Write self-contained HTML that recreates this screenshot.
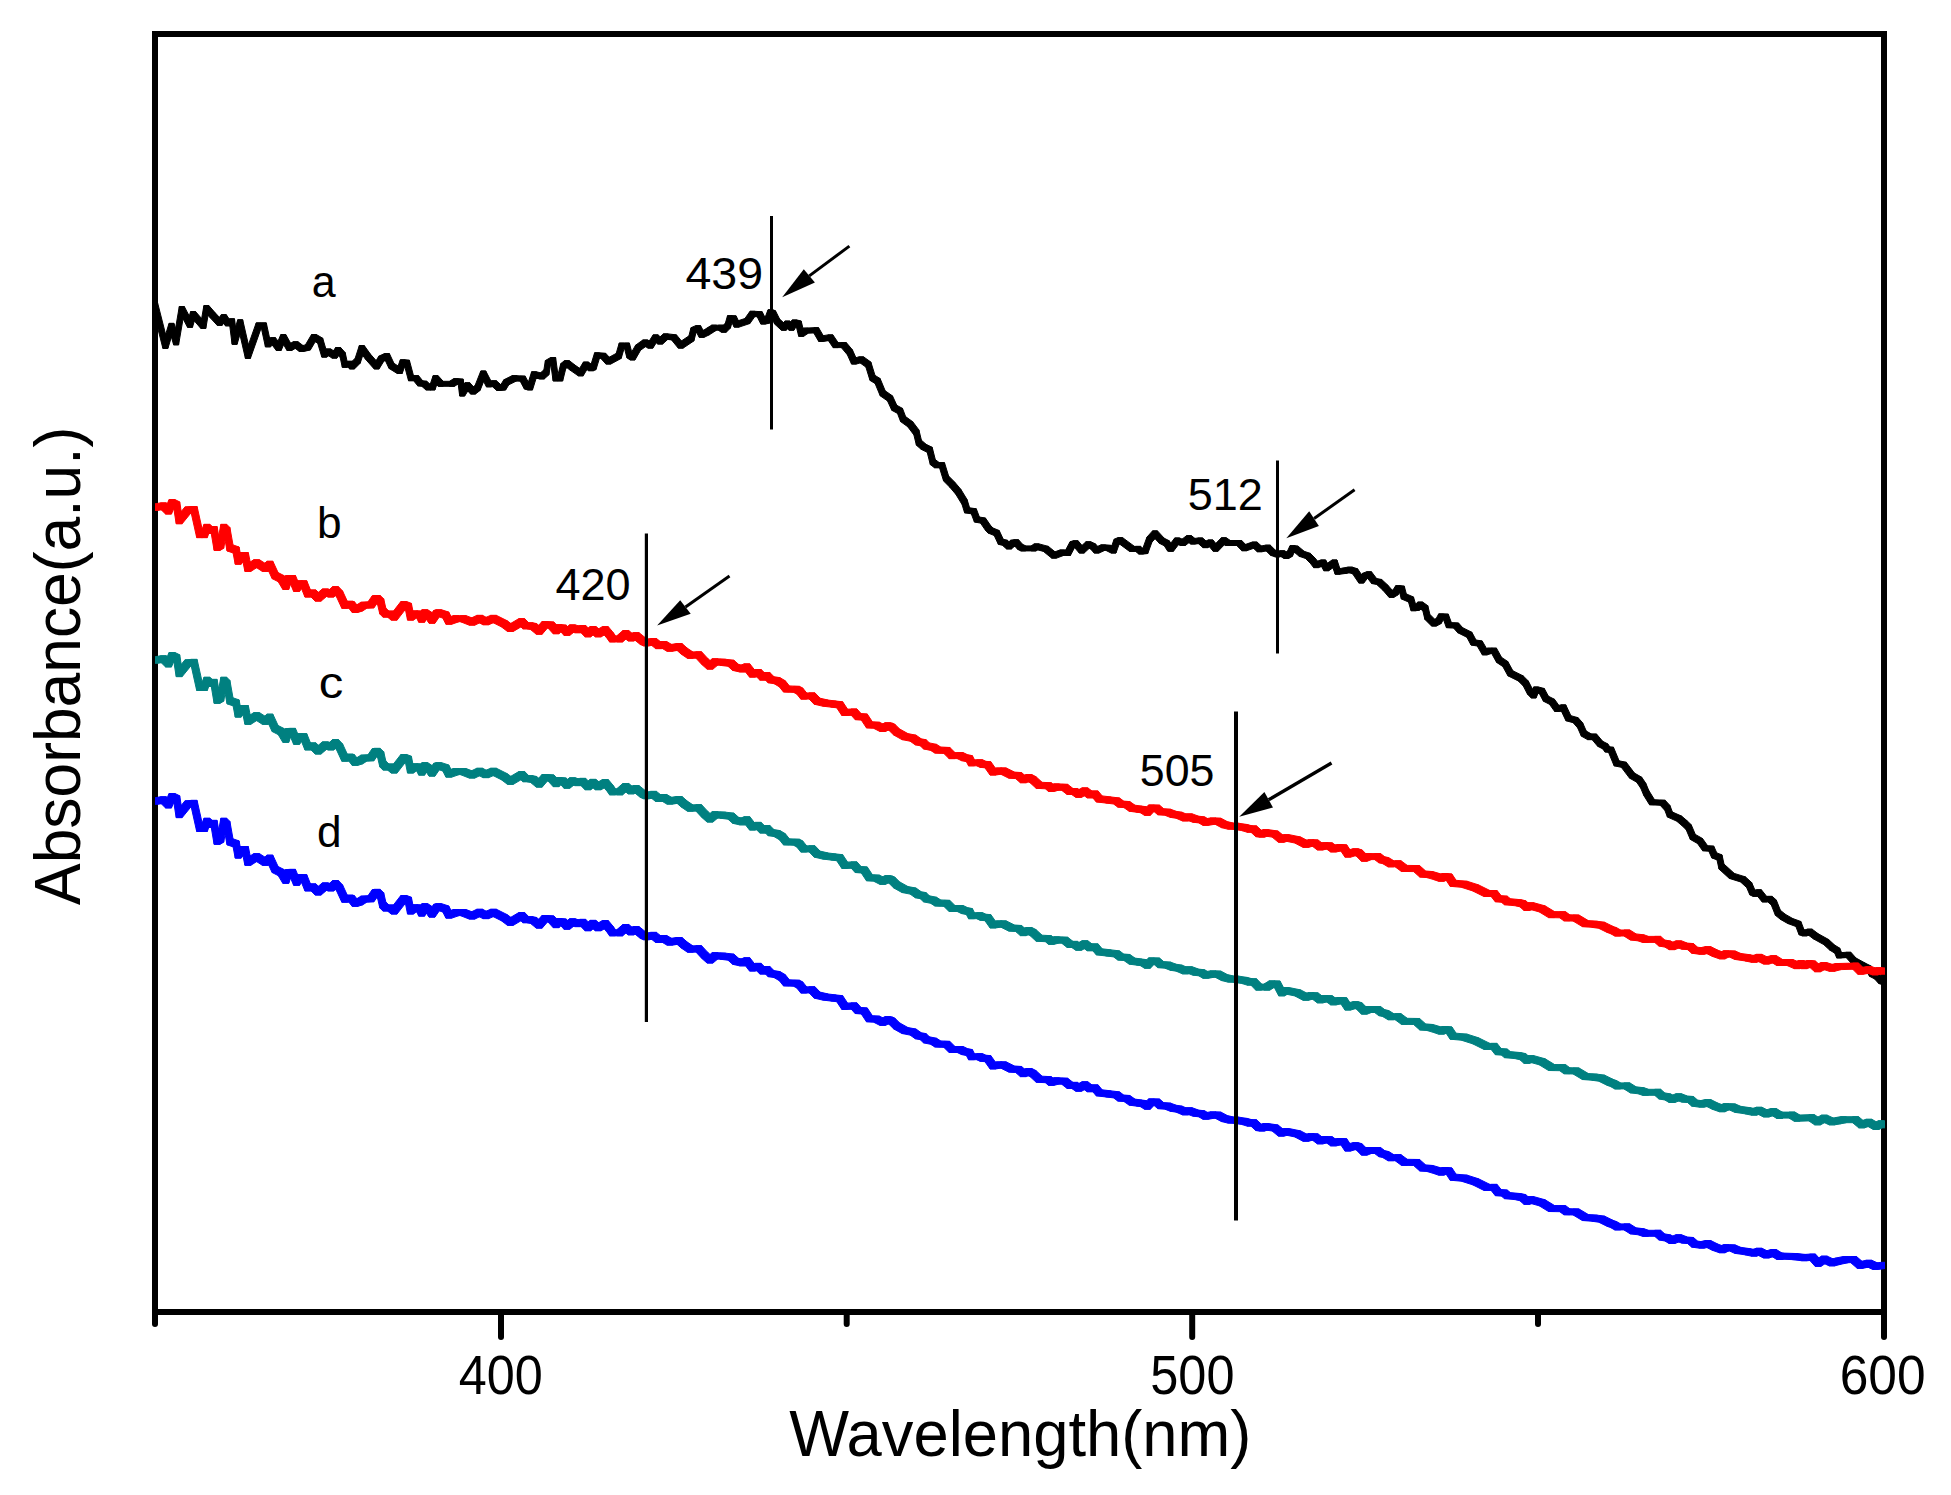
<!DOCTYPE html>
<html><head><meta charset="utf-8"><title>UV-vis absorbance</title>
<style>html,body{margin:0;padding:0;background:#fff}svg{display:block}</style></head><body>
<svg width="1951" height="1495" viewBox="0 0 1951 1495">
<rect width="1951" height="1495" fill="#fff"/>
<rect x="155" y="34" width="1729" height="1278" fill="none" stroke="#000" stroke-width="6"/>
<line x1="155" y1="1312" x2="155" y2="1324" stroke="#000" stroke-width="6" stroke-linecap="round"/>
<line x1="501" y1="1312" x2="501" y2="1337" stroke="#000" stroke-width="6" stroke-linecap="round"/>
<line x1="846.7" y1="1312" x2="846.7" y2="1324" stroke="#000" stroke-width="6" stroke-linecap="round"/>
<line x1="1192.2" y1="1312" x2="1192.2" y2="1337" stroke="#000" stroke-width="6" stroke-linecap="round"/>
<line x1="1538" y1="1312" x2="1538" y2="1324" stroke="#000" stroke-width="6" stroke-linecap="round"/>
<line x1="1884" y1="1312" x2="1884" y2="1337" stroke="#000" stroke-width="6" stroke-linecap="round"/>
<defs><clipPath id="plot"><rect x="155" y="34" width="1730" height="1278"/></clipPath></defs>
<path fill="#000" stroke="#000" stroke-width="1.0" stroke-linejoin="round" fill-rule="nonzero" clip-path="url(#plot)" d="M152.5 302.4L157.5 302.4L167.9 343.4L167.9 348.4L162.9 348.4L152.5 307.4ZM162.9 343.4L169.0 323.4L174.0 323.4L174.0 328.4L167.9 348.4L162.9 348.4ZM169.0 323.4L174.0 323.4L178.6 339.8L178.6 344.8L173.6 344.8L169.0 328.4ZM173.6 339.8L179.3 306.5L184.3 306.5L184.3 311.5L178.6 344.8L173.6 344.8ZM179.3 306.5L184.3 306.5L192.5 322.3L192.5 327.3L187.5 327.3L179.3 311.5ZM187.5 322.3L190.6 311.6L195.6 311.6L195.6 316.6L192.5 327.3L187.5 327.3ZM190.6 311.6L195.6 311.6L205.8 323.4L205.8 328.4L200.8 328.4L190.6 316.6ZM200.8 323.4L203.9 305.6L208.9 305.6L208.9 310.6L205.8 328.4L200.8 328.4ZM203.9 305.6L208.9 305.6L215.0 312.6L215.0 317.6L210.0 317.6L203.9 310.6ZM210.0 312.6L215.0 312.6L222.2 320.3L222.2 325.3L217.2 325.3L210.0 317.6ZM217.2 320.3L221.3 314.7L226.3 314.7L226.3 319.7L222.2 325.3L217.2 325.3ZM221.3 314.7L226.3 314.7L230.4 320.8L230.4 325.8L225.4 325.8L221.3 319.7ZM225.4 320.8L229.5 318.8L234.5 318.8L234.5 323.8L230.4 325.8L225.4 325.8ZM229.5 318.8L234.5 318.8L237.1 339.3L237.1 344.3L232.1 344.3L229.5 323.8ZM232.1 339.3L237.7 319.8L242.7 319.8L242.7 324.8L237.1 344.3L232.1 344.3ZM237.7 319.8L242.7 319.8L250.4 353.4L250.4 358.4L245.4 358.4L237.7 324.8ZM245.4 353.4L256.2 322.9L261.2 322.9L261.2 327.9L250.4 358.4L245.4 358.4ZM256.2 322.9L266.3 322.9L266.3 327.9L256.2 327.9ZM261.3 322.9L266.3 322.9L270.4 341.8L270.4 346.8L265.4 346.8L261.3 327.9ZM265.4 341.8L270.5 337.7L275.5 337.7L275.5 342.7L270.4 346.8L265.4 346.8ZM270.5 337.7L275.5 337.7L281.2 345.4L281.2 350.4L276.2 350.4L270.5 342.7ZM276.2 345.4L280.8 334.6L285.8 334.6L285.8 339.6L281.2 350.4L276.2 350.4ZM280.8 334.6L285.8 334.6L291.9 345.4L291.9 350.4L286.9 350.4L280.8 339.6ZM286.9 345.4L293.1 341.8L298.1 341.8L298.1 346.8L291.9 350.4L286.9 350.4ZM293.1 341.8L298.1 341.8L304.2 346.4L304.2 351.4L299.2 351.4L293.1 346.8ZM299.2 346.4L305.4 344.9L310.4 344.9L310.4 349.9L304.2 351.4L299.2 351.4ZM305.4 344.9L311.5 334.6L316.5 334.6L316.5 339.6L310.4 349.9L305.4 349.9ZM311.5 334.6L316.5 334.6L322.7 338.2L322.7 343.2L317.7 343.2L311.5 339.6ZM317.7 338.2L322.7 338.2L326.8 352.1L326.8 357.1L321.8 357.1L317.7 343.2ZM321.8 352.1L325.9 349.0L330.9 349.0L330.9 354.0L326.8 357.1L321.8 357.1ZM325.9 349.0L330.9 349.0L337.0 353.1L337.0 358.1L332.0 358.1L325.9 354.0ZM332.0 353.1L335.6 347.5L340.6 347.5L340.6 352.5L337.0 358.1L332.0 358.1ZM335.6 347.5L340.6 347.5L345.2 352.6L345.2 357.6L340.2 357.6L335.6 352.5ZM340.2 352.6L345.2 352.6L347.3 362.3L347.3 367.3L342.3 367.3L340.2 357.6ZM342.3 362.3L347.5 361.3L352.5 361.3L352.5 366.3L347.3 367.3L342.3 367.3ZM347.5 361.3L352.5 361.3L354.5 363.9L354.5 368.9L349.5 368.9L347.5 366.3ZM349.5 363.9L355.2 358.2L360.2 358.2L360.2 363.2L354.5 368.9L349.5 368.9ZM355.2 358.2L359.3 345.6L364.3 345.6L364.3 350.6L360.2 363.2L355.2 363.2ZM359.3 345.6L364.3 345.6L370.4 354.1L370.4 359.1L365.4 359.1L359.3 350.6ZM365.4 354.1L370.4 354.1L379.1 363.9L379.1 368.9L374.1 368.9L365.4 359.1ZM374.1 363.9L378.8 356.2L383.8 356.2L383.8 361.2L379.1 368.9L374.1 368.9ZM378.8 356.2L384.4 353.6L389.4 353.6L389.4 358.6L383.8 361.2L378.8 361.2ZM384.4 353.6L389.4 353.6L394.0 363.4L394.0 368.4L389.0 368.4L384.4 358.6ZM389.0 363.4L394.0 363.4L402.2 368.5L402.2 373.5L397.2 373.5L389.0 368.4ZM397.2 368.5L400.3 359.8L405.3 359.8L405.3 364.8L402.2 373.5L397.2 373.5ZM400.3 359.8L405.3 359.8L409.4 360.3L409.4 365.3L404.4 365.3L400.3 364.8ZM404.4 360.3L409.4 360.3L413.5 375.7L413.5 380.7L408.5 380.7L404.4 365.3ZM408.5 375.7L418.6 375.7L418.6 380.7L408.5 380.7ZM413.6 375.7L418.6 375.7L422.7 380.8L422.7 385.8L417.7 385.8L413.6 380.7ZM417.7 380.8L422.7 380.8L426.8 381.3L426.8 386.3L421.8 386.3L417.7 385.8ZM421.8 381.3L426.8 381.3L430.9 384.9L430.9 389.9L425.9 389.9L421.8 386.3ZM425.9 384.9L435.0 384.9L435.0 389.9L425.9 389.9ZM430.0 384.9L433.1 375.7L438.1 375.7L438.1 380.7L435.0 389.9L430.0 389.9ZM433.1 375.7L438.1 375.7L443.2 381.3L443.2 386.3L438.2 386.3L433.1 380.7ZM438.2 381.3L454.5 381.3L454.5 386.3L438.2 386.3ZM449.5 381.3L453.6 378.7L458.6 378.7L458.6 383.7L454.5 386.3L449.5 386.3ZM453.6 378.7L458.6 378.7L463.2 379.2L463.2 384.2L458.2 384.2L453.6 383.7ZM458.2 379.2L463.2 379.2L464.7 391.0L464.7 396.0L459.7 396.0L458.2 384.2ZM459.7 391.0L464.9 382.8L469.9 382.8L469.9 387.8L464.7 396.0L459.7 396.0ZM464.9 382.8L469.9 382.8L475.5 389.0L475.5 394.0L470.5 394.0L464.9 387.8ZM470.5 389.0L475.1 385.4L480.1 385.4L480.1 390.4L475.5 394.0L470.5 394.0ZM475.1 385.4L480.8 371.0L485.8 371.0L485.8 376.0L480.1 390.4L475.1 390.4ZM480.8 371.0L485.8 371.0L491.4 381.8L491.4 386.8L486.4 386.8L480.8 376.0ZM486.4 381.8L491.5 380.8L496.5 380.8L496.5 385.8L491.4 386.8L486.4 386.8ZM491.5 380.8L496.5 380.8L501.6 385.4L501.6 390.4L496.6 390.4L491.5 385.8ZM496.6 385.4L500.7 384.9L505.7 384.9L505.7 389.9L501.6 390.4L496.6 390.4ZM500.7 384.9L503.8 379.8L508.8 379.8L508.8 384.8L505.7 389.9L500.7 389.9ZM503.8 379.8L512.0 375.7L517.0 375.7L517.0 380.7L508.8 384.8L503.8 384.8ZM512.0 375.7L517.0 375.7L525.2 376.2L525.2 381.2L520.2 381.2L512.0 380.7ZM520.2 376.2L525.2 376.2L529.3 383.9L529.3 388.9L524.3 388.9L520.2 381.2ZM524.3 383.9L529.3 383.9L532.5 384.9L532.5 389.9L527.5 389.9L524.3 388.9ZM527.5 384.9L531.6 371.8L536.6 371.8L536.6 376.8L532.5 389.9L527.5 389.9ZM531.6 371.8L536.6 371.8L544.3 373.9L544.3 378.9L539.3 378.9L531.6 376.8ZM539.3 373.9L543.9 369.8L548.9 369.8L548.9 374.8L544.3 378.9L539.3 378.9ZM543.9 369.8L545.4 360.5L550.4 360.5L550.4 365.5L548.9 374.8L543.9 374.8ZM545.4 360.5L550.6 357.5L555.6 357.5L555.6 362.5L550.4 365.5L545.4 365.5ZM550.6 357.5L555.6 357.5L558.1 375.9L558.1 380.9L553.1 380.9L550.6 362.5ZM553.1 375.9L562.7 375.9L562.7 380.9L553.1 380.9ZM557.7 375.9L560.8 363.6L565.8 363.6L565.8 368.6L562.7 380.9L557.7 380.9ZM560.8 363.6L564.4 360.7L569.4 360.7L569.4 365.7L565.8 368.6L560.8 368.6ZM564.4 360.7L569.4 360.7L575.0 365.1L575.0 370.1L570.0 370.1L564.4 365.7ZM570.0 365.1L575.0 365.1L583.2 370.8L583.2 375.8L578.2 375.8L570.0 370.1ZM578.2 370.8L583.4 362.1L588.4 362.1L588.4 367.1L583.2 375.8L578.2 375.8ZM583.4 362.1L588.4 362.1L593.5 365.7L593.5 370.7L588.5 370.7L583.4 367.1ZM588.5 365.7L591.0 364.6L596.0 364.6L596.0 369.6L593.5 370.7L588.5 370.7ZM591.0 364.6L594.6 352.8L599.6 352.8L599.6 357.8L596.0 369.6L591.0 369.6ZM594.6 352.8L599.6 352.8L605.8 353.4L605.8 358.4L600.8 358.4L594.6 357.8ZM600.8 353.4L605.8 353.4L610.9 359.0L610.9 364.0L605.9 364.0L600.8 358.4ZM605.9 359.0L616.2 353.4L621.2 353.4L621.2 358.4L610.9 364.0L605.9 364.0ZM616.2 353.4L619.2 343.1L624.2 343.1L624.2 348.1L621.2 358.4L616.2 358.4ZM619.2 343.1L629.4 343.1L629.4 348.1L619.2 348.1ZM624.4 343.1L629.4 343.1L631.9 352.8L631.9 357.8L626.9 357.8L624.4 348.1ZM626.9 352.8L631.9 352.8L635.0 354.9L635.0 359.9L630.0 359.9L626.9 357.8ZM630.0 354.9L635.6 345.2L640.6 345.2L640.6 350.2L635.0 359.9L630.0 359.9ZM635.6 345.2L642.8 340.0L647.8 340.0L647.8 345.0L640.6 350.2L635.6 350.2ZM642.8 340.0L647.8 340.0L652.9 343.1L652.9 348.1L647.9 348.1L642.8 345.0ZM647.9 343.1L653.1 334.9L658.1 334.9L658.1 339.9L652.9 348.1L647.9 348.1ZM653.1 334.9L658.1 334.9L662.7 339.0L662.7 344.0L657.7 344.0L653.1 339.9ZM657.7 339.0L663.3 333.9L668.3 333.9L668.3 338.9L662.7 344.0L657.7 344.0ZM663.3 333.9L668.3 333.9L676.5 334.9L676.5 339.9L671.5 339.9L663.3 338.9ZM671.5 334.9L676.5 334.9L683.2 343.1L683.2 348.1L678.2 348.1L671.5 339.9ZM678.2 343.1L688.9 335.9L693.9 335.9L693.9 340.9L683.2 348.1L678.2 348.1ZM688.9 335.9L691.0 327.7L696.0 327.7L696.0 332.7L693.9 340.9L688.9 340.9ZM691.0 327.7L695.6 325.7L700.6 325.7L700.6 330.7L696.0 332.7L691.0 332.7ZM695.6 325.7L700.6 325.7L704.2 332.3L704.2 337.3L699.2 337.3L695.6 330.7ZM699.2 332.3L704.3 329.8L709.3 329.8L709.3 334.8L704.2 337.3L699.2 337.3ZM704.3 329.8L707.5 327.7L712.5 327.7L712.5 332.7L709.3 334.8L704.3 334.8ZM707.5 327.7L711.6 325.2L716.6 325.2L716.6 330.2L712.5 332.7L707.5 332.7ZM711.6 325.2L723.3 325.2L723.3 330.2L711.6 330.2ZM718.3 325.2L723.3 325.2L726.3 327.2L726.3 332.2L721.3 332.2L718.3 330.2ZM721.3 327.2L725.4 323.1L730.4 323.1L730.4 328.1L726.3 332.2L721.3 332.2ZM725.4 323.1L727.5 315.7L732.5 315.7L732.5 320.7L730.4 328.1L725.4 328.1ZM727.5 315.7L732.5 315.7L736.1 315.9L736.1 320.9L731.1 320.9L727.5 320.7ZM731.1 315.9L736.1 315.9L739.1 322.1L739.1 327.1L734.1 327.1L731.1 320.9ZM734.1 322.1L744.9 318.5L749.9 318.5L749.9 323.5L739.1 327.1L734.1 327.1ZM744.9 318.5L750.0 311.3L755.0 311.3L755.0 316.3L749.9 323.5L744.9 323.5ZM750.0 311.3L755.0 311.3L762.2 311.8L762.2 316.8L757.2 316.8L750.0 316.3ZM757.2 311.8L762.2 311.8L765.8 319.0L765.8 324.0L760.8 324.0L757.2 316.8ZM760.8 319.0L764.9 318.0L769.9 318.0L769.9 323.0L765.8 324.0L760.8 324.0ZM764.9 318.0L768.0 309.8L773.0 309.8L773.0 314.8L769.9 323.0L764.9 323.0ZM768.0 309.8L773.0 309.8L775.5 310.8L775.5 315.8L770.5 315.8L768.0 314.8ZM770.5 310.8L775.5 310.8L779.6 319.0L779.6 324.0L774.6 324.0L770.5 315.8ZM774.6 319.0L779.6 319.0L786.3 325.2L786.3 330.2L781.3 330.2L774.6 324.0ZM781.3 325.2L784.9 321.1L789.9 321.1L789.9 326.1L786.3 330.2L781.3 330.2ZM784.9 321.1L789.9 321.1L794.0 325.2L794.0 330.2L789.0 330.2L784.9 326.1ZM789.0 325.2L792.1 320.0L797.1 320.0L797.1 325.0L794.0 330.2L789.0 330.2ZM792.1 320.0L797.1 320.0L801.2 321.1L801.2 326.1L796.2 326.1L792.1 325.0ZM796.2 321.1L801.2 321.1L803.7 331.3L803.7 336.3L798.7 336.3L796.2 326.1ZM798.7 331.3L803.3 328.2L808.3 328.2L808.3 333.2L803.7 336.3L798.7 336.3ZM803.3 328.2L813.6 327.7L818.6 327.7L818.6 332.7L808.3 333.2L803.3 333.2ZM813.6 327.7L818.6 327.7L823.7 336.4L823.7 341.4L818.7 341.4L813.6 332.7ZM818.7 336.4L827.9 334.9L832.9 334.9L832.9 339.9L823.7 341.4L818.7 341.4ZM827.9 334.9L832.9 334.9L838.1 342.6L838.1 347.6L833.1 347.6L827.9 339.9ZM833.1 342.6L846.3 342.6L846.3 347.6L833.1 347.6ZM841.3 342.6L846.3 342.6L852.4 349.8L852.4 354.8L847.4 354.8L841.3 347.6ZM847.4 349.8L852.4 349.8L856.5 359.0L856.5 364.0L851.5 364.0L847.4 354.8ZM851.5 359.0L858.7 356.9L863.7 356.9L863.7 361.9L856.5 364.0L851.5 364.0ZM858.7 356.9L863.7 356.9L870.9 362.1L870.9 367.1L865.9 367.1L858.7 361.9ZM865.9 362.1L870.9 362.1L875.0 375.4L875.0 380.4L870.0 380.4L865.9 367.1ZM870.0 375.4L875.0 375.4L880.1 378.5L880.1 383.5L875.1 383.5L870.0 380.4ZM875.1 378.5L880.1 378.5L885.2 390.8L885.2 395.8L880.2 395.8L875.1 383.5ZM880.2 390.8L885.2 390.8L892.5 395.9L892.5 400.9L887.5 400.9L880.2 395.8ZM887.5 395.9L892.5 395.9L896.8 405.3L896.8 410.3L891.8 410.3L887.5 400.9ZM891.8 405.3L896.8 405.3L902.5 408.4L902.5 413.4L897.5 413.4L891.8 410.3ZM897.5 408.4L902.5 408.4L905.6 416.6L905.6 421.6L900.6 421.6L897.5 413.4ZM900.6 416.6L905.6 416.6L912.7 421.7L912.7 426.7L907.7 426.7L900.6 421.6ZM907.7 421.7L912.7 421.7L918.9 429.9L918.9 434.9L913.9 434.9L907.7 426.7ZM913.9 429.9L918.9 429.9L921.4 440.2L921.4 445.2L916.4 445.2L913.9 434.9ZM916.4 440.2L921.4 440.2L926.1 444.3L926.1 449.3L921.1 449.3L916.4 445.2ZM921.1 444.3L926.1 444.3L932.2 447.3L932.2 452.3L927.2 452.3L921.1 449.3ZM927.2 447.3L932.2 447.3L935.3 459.6L935.3 464.6L930.3 464.6L927.2 452.3ZM930.3 459.6L935.3 459.6L939.4 462.7L939.4 467.7L934.4 467.7L930.3 464.6ZM934.4 462.7L944.5 462.7L944.5 467.7L934.4 467.7ZM939.5 462.7L944.5 462.7L948.6 476.0L948.6 481.0L943.6 481.0L939.5 467.7ZM943.6 476.0L948.6 476.0L954.8 482.2L954.8 487.2L949.8 487.2L943.6 481.0ZM949.8 482.2L954.8 482.2L960.9 489.4L960.9 494.4L955.9 494.4L949.8 487.2ZM955.9 489.4L960.9 489.4L967.1 499.6L967.1 504.6L962.1 504.6L955.9 494.4ZM962.1 499.6L967.1 499.6L969.6 507.8L969.6 512.8L964.6 512.8L962.1 504.6ZM964.6 507.8L969.6 507.8L976.3 508.8L976.3 513.8L971.3 513.8L964.6 512.8ZM971.3 508.8L976.3 508.8L979.4 517.0L979.4 522.0L974.4 522.0L971.3 513.8ZM974.4 517.0L979.4 517.0L985.5 518.1L985.5 523.1L980.5 523.1L974.4 522.0ZM980.5 518.1L985.5 518.1L990.6 525.5L990.6 530.5L985.6 530.5L980.5 523.1ZM985.6 525.5L990.6 525.5L993.0 528.0L993.0 533.0L988.0 533.0L985.6 530.5ZM988.0 528.0L993.0 528.0L999.2 530.5L999.2 535.5L994.2 535.5L988.0 533.0ZM994.2 530.5L999.2 530.5L1003.3 539.3L1003.3 544.3L998.3 544.3L994.2 535.5ZM998.3 539.3L1003.3 539.3L1007.4 540.3L1007.4 545.3L1002.4 545.3L998.3 544.3ZM1002.4 540.3L1007.4 540.3L1011.5 543.9L1011.5 548.9L1006.5 548.9L1002.4 545.3ZM1006.5 543.9L1010.6 540.3L1015.6 540.3L1015.6 545.3L1011.5 548.9L1006.5 548.9ZM1010.6 540.3L1013.6 539.8L1018.6 539.8L1018.6 544.8L1015.6 545.3L1010.6 545.3ZM1013.6 539.8L1018.6 539.8L1022.7 544.4L1022.7 549.4L1017.7 549.4L1013.6 544.8ZM1017.7 544.4L1022.7 544.4L1025.8 545.9L1025.8 550.9L1020.8 550.9L1017.7 549.4ZM1020.8 545.9L1036.1 545.9L1036.1 550.9L1020.8 550.9ZM1031.1 545.9L1034.1 543.9L1039.1 543.9L1039.1 548.9L1036.1 550.9L1031.1 550.9ZM1034.1 543.9L1039.1 543.9L1048.4 546.4L1048.4 551.4L1043.4 551.4L1034.1 548.9ZM1043.4 546.4L1048.4 546.4L1056.6 553.1L1056.6 558.1L1051.6 558.1L1043.4 551.4ZM1051.6 553.1L1059.8 550.0L1064.8 550.0L1064.8 555.0L1056.6 558.1L1051.6 558.1ZM1059.8 550.0L1064.8 550.0L1070.4 550.5L1070.4 555.5L1065.4 555.5L1059.8 555.0ZM1065.4 550.5L1070.0 541.8L1075.0 541.8L1075.0 546.8L1070.4 555.5L1065.4 555.5ZM1070.0 541.8L1073.1 540.8L1078.1 540.8L1078.1 545.8L1075.0 546.8L1070.0 546.8ZM1073.1 540.8L1078.1 540.8L1084.2 548.0L1084.2 553.0L1079.2 553.0L1073.1 545.8ZM1079.2 548.0L1085.9 541.8L1090.9 541.8L1090.9 546.8L1084.2 553.0L1079.2 553.0ZM1085.9 541.8L1090.9 541.8L1095.5 543.9L1095.5 548.9L1090.5 548.9L1085.9 546.8ZM1090.5 543.9L1095.5 543.9L1099.1 548.0L1099.1 553.0L1094.1 553.0L1090.5 548.9ZM1094.1 548.0L1100.8 544.9L1105.8 544.9L1105.8 549.9L1099.1 553.0L1094.1 553.0ZM1100.8 544.9L1105.8 544.9L1110.9 545.4L1110.9 550.4L1105.9 550.4L1100.8 549.9ZM1105.9 545.4L1110.9 545.4L1116.0 548.0L1116.0 553.0L1111.0 553.0L1105.9 550.4ZM1111.0 548.0L1114.1 539.3L1119.1 539.3L1119.1 544.3L1116.0 553.0L1111.0 553.0ZM1114.1 539.3L1117.7 537.7L1122.7 537.7L1122.7 542.7L1119.1 544.3L1114.1 544.3ZM1117.7 537.7L1122.7 537.7L1134.5 546.4L1134.5 551.4L1129.5 551.4L1117.7 542.7ZM1129.5 546.4L1140.6 546.4L1140.6 551.4L1129.5 551.4ZM1135.6 546.4L1140.6 546.4L1143.7 549.0L1143.7 554.0L1138.7 554.0L1135.6 551.4ZM1138.7 549.0L1142.8 548.5L1147.8 548.5L1147.8 553.5L1143.7 554.0L1138.7 554.0ZM1142.8 548.5L1146.9 537.2L1151.9 537.2L1151.9 542.2L1147.8 553.5L1142.8 553.5ZM1146.9 537.2L1152.5 530.9L1157.5 530.9L1157.5 535.9L1151.9 542.2L1146.9 542.2ZM1152.5 530.9L1157.5 530.9L1164.2 538.2L1164.2 543.2L1159.2 543.2L1152.5 535.9ZM1159.2 538.2L1164.2 538.2L1169.3 540.8L1169.3 545.8L1164.3 545.8L1159.2 543.2ZM1164.3 540.8L1169.3 540.8L1172.5 545.9L1172.5 550.9L1167.5 550.9L1164.3 545.8ZM1167.5 545.9L1172.5 545.9L1173.5 546.2L1173.5 551.2L1168.5 551.2L1167.5 550.9ZM1168.5 546.2L1174.7 538.0L1179.7 538.0L1179.7 543.0L1173.5 551.2L1168.5 551.2ZM1174.7 538.0L1179.7 538.0L1185.3 540.5L1185.3 545.5L1180.3 545.5L1174.7 543.0ZM1180.3 540.5L1186.5 535.7L1191.5 535.7L1191.5 540.7L1185.3 545.5L1180.3 545.5ZM1186.5 535.7L1191.5 535.7L1195.6 539.0L1195.6 544.0L1190.6 544.0L1186.5 540.7ZM1190.6 539.0L1197.7 538.0L1202.7 538.0L1202.7 543.0L1195.6 544.0L1190.6 544.0ZM1197.7 538.0L1202.7 538.0L1207.9 542.6L1207.9 547.6L1202.9 547.6L1197.7 543.0ZM1202.9 542.6L1208.0 540.0L1213.0 540.0L1213.0 545.0L1207.9 547.6L1202.9 547.6ZM1208.0 540.0L1213.0 540.0L1218.1 546.2L1218.1 551.2L1213.1 551.2L1208.0 545.0ZM1213.1 546.2L1221.3 537.8L1226.3 537.8L1226.3 542.8L1218.1 551.2L1213.1 551.2ZM1221.3 537.8L1226.3 537.8L1230.4 540.5L1230.4 545.5L1225.4 545.5L1221.3 542.8ZM1225.4 540.5L1241.7 540.5L1241.7 545.5L1225.4 545.5ZM1236.7 540.5L1241.7 540.5L1246.8 545.7L1246.8 550.7L1241.8 550.7L1236.7 545.5ZM1241.8 545.7L1252.1 542.1L1257.1 542.1L1257.1 547.1L1246.8 550.7L1241.8 550.7ZM1252.1 542.1L1257.1 542.1L1262.2 546.7L1262.2 551.7L1257.2 551.7L1252.1 547.1ZM1257.2 546.7L1265.4 545.2L1270.4 545.2L1270.4 550.2L1262.2 551.7L1257.2 551.7ZM1265.4 545.2L1270.4 545.2L1275.5 550.3L1275.5 555.3L1270.5 555.3L1265.4 550.2ZM1270.5 550.3L1275.5 550.3L1279.9 551.8L1279.9 556.8L1274.9 556.8L1270.5 555.3ZM1274.9 551.8L1279.7 550.8L1284.7 550.8L1284.7 555.8L1279.9 556.8L1274.9 556.8ZM1279.7 550.8L1284.7 550.8L1288.8 553.4L1288.8 558.4L1283.8 558.4L1279.7 555.8ZM1283.8 553.4L1287.4 551.3L1292.4 551.3L1292.4 556.3L1288.8 558.4L1283.8 558.4ZM1287.4 551.3L1290.0 545.7L1295.0 545.7L1295.0 550.7L1292.4 556.3L1287.4 556.3ZM1290.0 545.7L1295.0 545.7L1298.1 546.2L1298.1 551.2L1293.1 551.2L1290.0 550.7ZM1293.1 546.2L1298.1 546.2L1304.2 551.3L1304.2 556.3L1299.2 556.3L1293.1 551.2ZM1299.2 551.3L1304.2 551.3L1310.4 553.4L1310.4 558.4L1305.4 558.4L1299.2 556.3ZM1305.4 553.4L1310.4 553.4L1315.5 558.5L1315.5 563.5L1310.5 563.5L1305.4 558.4ZM1310.5 558.5L1315.5 558.5L1318.6 562.6L1318.6 567.6L1313.6 567.6L1310.5 563.5ZM1313.6 562.6L1320.7 560.0L1325.7 560.0L1325.7 565.0L1318.6 567.6L1313.6 567.6ZM1320.7 560.0L1325.7 560.0L1328.8 565.7L1328.8 570.7L1323.8 570.7L1320.7 565.0ZM1323.8 565.7L1332.0 560.0L1337.0 560.0L1337.0 565.0L1328.8 570.7L1323.8 570.7ZM1332.0 560.0L1337.0 560.0L1340.1 569.2L1340.1 574.2L1335.1 574.2L1332.0 565.0ZM1335.1 569.2L1342.3 568.2L1347.3 568.2L1347.3 573.2L1340.1 574.2L1335.1 574.2ZM1342.3 568.2L1347.5 567.2L1352.5 567.2L1352.5 572.2L1347.3 573.2L1342.3 573.2ZM1347.5 567.2L1352.5 567.2L1357.6 568.8L1357.6 573.8L1352.6 573.8L1347.5 572.2ZM1352.6 568.8L1357.6 568.8L1363.8 578.0L1363.8 583.0L1358.8 583.0L1352.6 573.8ZM1358.8 578.0L1362.4 573.4L1367.4 573.4L1367.4 578.4L1363.8 583.0L1358.8 583.0ZM1362.4 573.4L1366.5 571.8L1371.5 571.8L1371.5 576.8L1367.4 578.4L1362.4 578.4ZM1366.5 571.8L1371.5 571.8L1376.6 578.5L1376.6 583.5L1371.6 583.5L1366.5 576.8ZM1371.6 578.5L1376.6 578.5L1381.7 579.5L1381.7 584.5L1376.7 584.5L1371.6 583.5ZM1376.7 579.5L1381.7 579.5L1387.9 585.2L1387.9 590.2L1382.9 590.2L1376.7 584.5ZM1382.9 585.2L1387.9 585.2L1394.0 592.3L1394.0 597.3L1389.0 597.3L1382.9 590.2ZM1389.0 592.3L1393.1 589.8L1398.1 589.8L1398.1 594.8L1394.0 597.3L1389.0 597.3ZM1393.1 589.8L1395.7 585.7L1400.7 585.7L1400.7 590.7L1398.1 594.8L1393.1 594.8ZM1395.7 585.7L1400.7 585.7L1404.3 586.2L1404.3 591.2L1399.3 591.2L1395.7 590.7ZM1399.3 586.2L1404.3 586.2L1406.3 593.9L1406.3 598.9L1401.3 598.9L1399.3 591.2ZM1401.3 593.9L1406.3 593.9L1413.5 597.0L1413.5 602.0L1408.5 602.0L1401.3 598.9ZM1408.5 597.0L1413.5 597.0L1416.0 605.7L1416.0 610.7L1411.0 610.7L1408.5 602.0ZM1411.0 605.7L1414.6 605.2L1419.6 605.2L1419.6 610.2L1416.0 610.7L1411.0 610.7ZM1414.6 605.2L1417.7 602.1L1422.7 602.1L1422.7 607.1L1419.6 610.2L1414.6 610.2ZM1417.7 602.1L1422.7 602.1L1427.8 605.7L1427.8 610.7L1422.8 610.7L1417.7 607.1ZM1422.8 605.7L1427.8 605.7L1429.9 614.4L1429.9 619.4L1424.9 619.4L1422.8 610.7ZM1424.9 614.4L1429.9 614.4L1436.5 621.0L1436.5 626.0L1431.5 626.0L1424.9 619.4ZM1431.5 621.0L1436.2 618.5L1441.2 618.5L1441.2 623.5L1436.5 626.0L1431.5 626.0ZM1436.2 618.5L1438.7 613.9L1443.7 613.9L1443.7 618.9L1441.2 623.5L1436.2 623.5ZM1438.7 613.9L1443.7 613.9L1448.3 614.2L1448.3 619.2L1443.3 619.2L1438.7 618.9ZM1443.3 614.2L1448.3 614.2L1451.4 622.6L1451.4 627.6L1446.4 627.6L1443.3 619.2ZM1446.4 622.6L1451.4 622.6L1458.6 623.1L1458.6 628.1L1453.6 628.1L1446.4 627.6ZM1453.6 623.1L1458.6 623.1L1462.7 627.7L1462.7 632.7L1457.7 632.7L1453.6 628.1ZM1457.7 627.7L1462.7 627.7L1471.9 632.3L1471.9 637.3L1466.9 637.3L1457.7 632.7ZM1466.9 632.3L1471.9 632.3L1476.0 640.0L1476.0 645.0L1471.0 645.0L1466.9 637.3ZM1471.0 640.0L1476.0 640.0L1482.2 641.0L1482.2 646.0L1477.2 646.0L1471.0 645.0ZM1477.2 641.0L1482.2 641.0L1487.3 649.8L1487.3 654.8L1482.3 654.8L1477.2 646.0ZM1482.3 649.8L1487.4 648.2L1492.4 648.2L1492.4 653.2L1487.3 654.8L1482.3 654.8ZM1487.4 648.2L1496.5 648.2L1496.5 653.2L1487.4 653.2ZM1491.5 648.2L1496.5 648.2L1501.6 657.4L1501.6 662.4L1496.6 662.4L1491.5 653.2ZM1496.6 657.4L1501.6 657.4L1507.8 661.5L1507.8 666.5L1502.8 666.5L1496.6 662.4ZM1502.8 661.5L1507.8 661.5L1512.9 670.8L1512.9 675.8L1507.9 675.8L1502.8 666.5ZM1507.9 670.8L1512.9 670.8L1523.2 675.9L1523.2 680.9L1518.2 680.9L1507.9 675.8ZM1518.2 675.9L1523.2 675.9L1528.3 681.0L1528.3 686.0L1523.3 686.0L1518.2 680.9ZM1523.3 681.0L1528.3 681.0L1532.5 689.2L1532.5 694.2L1527.5 694.2L1523.3 686.0ZM1527.5 689.2L1532.5 689.2L1536.1 692.9L1536.1 697.9L1531.1 697.9L1527.5 694.2ZM1531.1 692.9L1533.6 687.0L1538.6 687.0L1538.6 692.0L1536.1 697.9L1531.1 697.9ZM1533.6 687.0L1538.6 687.0L1544.3 688.5L1544.3 693.5L1539.3 693.5L1533.6 692.0ZM1539.3 688.5L1544.3 688.5L1548.4 696.2L1548.4 701.2L1543.4 701.2L1539.3 693.5ZM1543.4 696.2L1548.4 696.2L1554.5 699.3L1554.5 704.3L1549.5 704.3L1543.4 701.2ZM1549.5 699.3L1554.5 699.3L1559.7 706.5L1559.7 711.5L1554.7 711.5L1549.5 704.3ZM1554.7 706.5L1560.8 704.9L1565.8 704.9L1565.8 709.9L1559.7 711.5L1554.7 711.5ZM1560.8 704.9L1565.8 704.9L1570.9 715.7L1570.9 720.7L1565.9 720.7L1560.8 709.9ZM1565.9 715.7L1570.9 715.7L1578.1 717.7L1578.1 722.7L1573.1 722.7L1565.9 720.7ZM1573.1 717.7L1578.1 717.7L1582.7 722.9L1582.7 727.9L1577.7 727.9L1573.1 722.7ZM1577.7 722.9L1582.7 722.9L1586.3 731.1L1586.3 736.1L1581.3 736.1L1577.7 727.9ZM1581.3 731.1L1586.3 731.1L1592.5 734.6L1592.5 739.6L1587.5 739.6L1581.3 736.1ZM1587.5 734.6L1591.6 734.1L1596.6 734.1L1596.6 739.1L1592.5 739.6L1587.5 739.6ZM1591.6 734.1L1596.6 734.1L1602.7 741.3L1602.7 746.3L1597.7 746.3L1591.6 739.1ZM1597.7 741.3L1602.7 741.3L1607.8 743.9L1607.8 748.9L1602.8 748.9L1597.7 746.3ZM1602.8 743.9L1607.8 743.9L1609.9 746.9L1609.9 751.9L1604.9 751.9L1602.8 748.9ZM1604.9 746.9L1609.9 746.9L1613.5 747.3L1613.5 752.3L1608.5 752.3L1604.9 751.9ZM1608.5 747.3L1613.5 747.3L1619.1 760.8L1619.1 765.8L1614.1 765.8L1608.5 752.3ZM1614.1 760.8L1619.1 760.8L1626.3 762.3L1626.3 767.3L1621.3 767.3L1614.1 765.8ZM1621.3 762.3L1626.3 762.3L1634.5 773.1L1634.5 778.1L1629.5 778.1L1621.3 767.3ZM1629.5 773.1L1634.5 773.1L1641.7 777.2L1641.7 782.2L1636.7 782.2L1629.5 778.1ZM1636.7 777.2L1641.7 777.2L1645.8 783.3L1645.8 788.3L1640.8 788.3L1636.7 782.2ZM1640.8 783.3L1645.8 783.3L1648.8 790.5L1648.8 795.5L1643.8 795.5L1640.8 788.3ZM1643.8 790.5L1648.8 790.5L1654.5 799.7L1654.5 804.7L1649.5 804.7L1643.8 795.5ZM1649.5 799.7L1654.5 799.7L1665.2 800.3L1665.2 805.3L1660.2 805.3L1649.5 804.7ZM1660.2 800.3L1665.2 800.3L1669.9 805.4L1669.9 810.4L1664.9 810.4L1660.2 805.3ZM1664.9 805.4L1669.9 805.4L1672.4 812.0L1672.4 817.0L1667.4 817.0L1664.9 810.4ZM1667.4 812.0L1672.4 812.0L1681.6 816.1L1681.6 821.1L1676.6 821.1L1667.4 817.0ZM1676.6 816.1L1681.6 816.1L1686.8 820.5L1686.8 825.5L1681.8 825.5L1676.6 821.1ZM1681.8 820.5L1686.8 820.5L1691.2 824.7L1691.2 829.7L1686.2 829.7L1681.8 825.5ZM1686.2 824.7L1691.2 824.7L1695.3 834.4L1695.3 839.4L1690.3 839.4L1686.2 829.7ZM1690.3 834.4L1695.3 834.4L1702.5 838.5L1702.5 843.5L1697.5 843.5L1690.3 839.4ZM1697.5 838.5L1702.5 838.5L1707.6 845.7L1707.6 850.7L1702.6 850.7L1697.5 843.5ZM1702.6 845.7L1707.6 845.7L1713.8 846.2L1713.8 851.2L1708.8 851.2L1702.6 850.7ZM1708.8 846.2L1713.8 846.2L1716.8 852.9L1716.8 857.9L1711.8 857.9L1708.8 851.2ZM1711.8 852.9L1716.8 852.9L1722.0 854.9L1722.0 859.9L1717.0 859.9L1711.8 857.9ZM1717.0 854.9L1722.0 854.9L1724.0 864.1L1724.0 869.1L1719.0 869.1L1717.0 859.9ZM1719.0 864.1L1724.0 864.1L1734.3 873.4L1734.3 878.4L1729.3 878.4L1719.0 869.1ZM1729.3 873.4L1734.3 873.4L1745.5 876.9L1745.5 881.9L1740.5 881.9L1729.3 878.4ZM1740.5 876.9L1745.5 876.9L1751.7 882.6L1751.7 887.6L1746.7 887.6L1740.5 881.9ZM1746.7 882.6L1751.7 882.6L1754.8 889.8L1754.8 894.8L1749.8 894.8L1746.7 887.6ZM1749.8 889.8L1754.8 889.8L1757.8 891.3L1757.8 896.3L1752.8 896.3L1749.8 894.8ZM1752.8 891.3L1756.4 889.8L1761.4 889.8L1761.4 894.8L1757.8 896.3L1752.8 896.3ZM1756.4 889.8L1761.4 889.8L1767.1 896.9L1767.1 901.9L1762.1 901.9L1756.4 894.8ZM1762.1 896.9L1767.2 896.4L1772.2 896.4L1772.2 901.4L1767.1 901.9L1762.1 901.9ZM1767.2 896.4L1772.2 896.4L1776.3 900.0L1776.3 905.0L1771.3 905.0L1767.2 901.4ZM1771.3 900.0L1776.3 900.0L1780.4 910.3L1780.4 915.3L1775.4 915.3L1771.3 905.0ZM1775.4 910.3L1780.4 910.3L1785.5 914.4L1785.5 919.4L1780.5 919.4L1775.4 915.3ZM1780.5 914.4L1785.5 914.4L1792.7 918.5L1792.7 923.5L1787.7 923.5L1780.5 919.4ZM1787.7 918.5L1792.7 918.5L1800.9 921.5L1800.9 926.5L1795.9 926.5L1787.7 923.5ZM1795.9 921.5L1800.9 921.5L1804.0 929.7L1804.0 934.7L1799.0 934.7L1795.9 926.5ZM1799.0 929.7L1804.0 929.7L1807.0 930.8L1807.0 935.8L1802.0 935.8L1799.0 934.7ZM1802.0 930.8L1807.2 929.2L1812.2 929.2L1812.2 934.2L1807.0 935.8L1802.0 935.8ZM1807.2 929.2L1812.2 929.2L1818.3 933.8L1818.3 938.8L1813.3 938.8L1807.2 934.2ZM1813.3 933.8L1818.3 933.8L1828.6 939.5L1828.6 944.5L1823.6 944.5L1813.3 938.8ZM1823.6 939.5L1828.6 939.5L1834.7 945.1L1834.7 950.1L1829.7 950.1L1823.6 944.5ZM1829.7 945.1L1834.7 945.1L1839.8 948.2L1839.8 953.2L1834.8 953.2L1829.7 950.1ZM1834.8 948.2L1839.8 948.2L1841.7 952.9L1841.7 957.9L1836.7 957.9L1834.8 953.2ZM1836.7 952.9L1845.9 952.3L1850.9 952.3L1850.9 957.3L1841.7 957.9L1836.7 957.9ZM1845.9 952.3L1850.9 952.3L1856.0 958.0L1856.0 963.0L1851.0 963.0L1845.9 957.3ZM1851.0 958.0L1856.0 958.0L1865.2 963.1L1865.2 968.1L1860.2 968.1L1851.0 963.0ZM1860.2 963.1L1865.2 963.1L1871.4 966.2L1871.4 971.2L1866.4 971.2L1860.2 968.1ZM1866.4 966.2L1871.4 966.2L1874.5 971.3L1874.5 976.3L1869.5 976.3L1866.4 971.2ZM1869.5 971.3L1874.5 971.3L1879.6 973.9L1879.6 978.9L1874.6 978.9L1869.5 976.3ZM1874.6 973.9L1879.6 973.9L1883.7 978.5L1883.7 983.5L1878.7 983.5L1874.6 978.9ZM1878.7 978.5L1883.7 978.5L1886.8 979.5L1886.8 984.5L1881.8 984.5L1878.7 983.5Z"/>
<path fill="#f00" stroke="#f00" stroke-width="1.0" stroke-linejoin="round" fill-rule="nonzero" clip-path="url(#plot)" d="M152.0 504.4L160.3 502.9L166.3 502.9L166.3 508.9L158.0 510.4L152.0 510.4ZM160.3 502.9L166.3 502.9L171.5 508.0L171.5 514.0L165.5 514.0L160.3 508.9ZM165.5 508.0L169.0 499.6L175.0 499.6L175.0 505.6L171.5 514.0L165.5 514.0ZM169.0 499.6L175.0 499.6L179.7 501.9L179.7 507.9L173.7 507.9L169.0 505.6ZM173.7 501.9L179.7 501.9L182.2 517.7L182.2 523.7L176.2 523.7L173.7 507.9ZM176.2 517.7L184.9 507.0L190.9 507.0L190.9 513.0L182.2 523.7L176.2 523.7ZM184.9 507.0L191.1 506.5L197.1 506.5L197.1 512.5L190.9 513.0L184.9 513.0ZM191.1 506.5L197.1 506.5L202.7 531.6L202.7 537.6L196.7 537.6L191.1 512.5ZM196.7 531.6L207.3 531.6L207.3 537.6L196.7 537.6ZM201.3 531.6L203.9 524.4L209.9 524.4L209.9 530.4L207.3 537.6L201.3 537.6ZM203.9 524.4L209.9 524.4L213.5 527.5L213.5 533.5L207.5 533.5L203.9 530.4ZM207.5 527.5L211.1 526.5L217.1 526.5L217.1 532.5L213.5 533.5L207.5 533.5ZM211.1 526.5L217.1 526.5L220.1 544.4L220.1 550.4L214.1 550.4L211.1 532.5ZM214.1 544.4L217.7 542.3L223.7 542.3L223.7 548.3L220.1 550.4L214.1 550.4ZM217.7 542.3L220.8 524.4L226.8 524.4L226.8 530.4L223.7 548.3L217.7 548.3ZM220.8 524.4L226.8 524.4L229.9 527.5L229.9 533.5L223.9 533.5L220.8 530.4ZM223.9 527.5L229.9 527.5L233.0 544.9L233.0 550.9L227.0 550.9L223.9 533.5ZM227.0 544.9L233.0 544.9L239.1 547.0L239.1 553.0L233.1 553.0L227.0 550.9ZM233.1 547.0L239.1 547.0L241.2 558.2L241.2 564.2L235.2 564.2L233.1 553.0ZM235.2 558.2L239.3 552.6L245.3 552.6L245.3 558.6L241.2 564.2L235.2 564.2ZM239.3 552.6L248.3 552.6L248.3 558.6L239.3 558.6ZM242.3 552.6L248.3 552.6L250.9 565.4L250.9 571.4L244.9 571.4L242.3 558.6ZM244.9 565.4L253.6 559.8L259.6 559.8L259.6 565.8L250.9 571.4L244.9 571.4ZM253.6 559.8L259.6 559.8L268.3 565.4L268.3 571.4L262.3 571.4L253.6 565.8ZM262.3 565.4L266.9 561.3L272.9 561.3L272.9 567.3L268.3 571.4L262.3 571.4ZM266.9 561.3L272.9 561.3L278.1 572.6L278.1 578.6L272.1 578.6L266.9 567.3ZM272.1 572.6L278.1 572.6L284.2 575.7L284.2 581.7L278.2 581.7L272.1 578.6ZM278.2 575.7L284.2 575.7L288.8 583.4L288.8 589.4L282.8 589.4L278.2 581.7ZM282.8 583.4L285.4 575.7L291.4 575.7L291.4 581.7L288.8 589.4L282.8 589.4ZM285.4 575.7L289.5 575.5L295.5 575.5L295.5 581.5L291.4 581.7L285.4 581.7ZM289.5 575.5L295.5 575.5L299.6 585.4L299.6 591.4L293.6 591.4L289.5 581.5ZM293.6 585.4L296.7 580.8L302.7 580.8L302.7 586.8L299.6 591.4L293.6 591.4ZM296.7 580.8L306.8 580.8L306.8 586.8L296.7 586.8ZM300.8 580.8L306.8 580.8L310.9 591.0L310.9 597.0L304.9 597.0L300.8 586.8ZM304.9 591.0L310.0 590.0L316.0 590.0L316.0 596.0L310.9 597.0L304.9 597.0ZM310.0 590.0L316.0 590.0L321.1 595.1L321.1 601.1L315.1 601.1L310.0 596.0ZM315.1 595.1L322.3 589.0L328.3 589.0L328.3 595.0L321.1 601.1L315.1 601.1ZM322.3 589.0L328.3 589.0L333.9 591.0L333.9 597.0L327.9 597.0L322.3 595.0ZM327.9 591.0L332.5 586.7L338.5 586.7L338.5 592.7L333.9 597.0L327.9 597.0ZM332.5 586.7L338.5 586.7L342.6 591.0L342.6 597.0L336.6 597.0L332.5 592.7ZM336.6 591.0L342.6 591.0L347.8 602.3L347.8 608.3L341.8 608.3L336.6 597.0ZM341.8 602.3L347.0 601.3L353.0 601.3L353.0 607.3L347.8 608.3L341.8 608.3ZM347.0 601.3L353.0 601.3L354.5 601.8L354.5 607.8L348.5 607.8L347.0 607.3ZM348.5 601.8L354.5 601.8L358.1 606.4L358.1 612.4L352.1 612.4L348.5 607.8ZM352.1 606.4L356.7 604.9L362.7 604.9L362.7 610.9L358.1 612.4L352.1 612.4ZM356.7 604.9L360.8 602.3L366.8 602.3L366.8 608.3L362.7 610.9L356.7 610.9ZM360.8 602.3L368.0 601.8L374.0 601.8L374.0 607.8L366.8 608.3L360.8 608.3ZM368.0 601.8L372.1 595.9L378.1 595.9L378.1 601.9L374.0 607.8L368.0 607.8ZM372.1 595.9L374.2 595.5L380.2 595.5L380.2 601.5L378.1 601.9L372.1 601.9ZM374.2 595.5L380.2 595.5L383.7 598.8L383.7 604.8L377.7 604.8L374.2 601.5ZM377.7 598.8L383.7 598.8L385.8 608.0L385.8 614.0L379.8 614.0L377.7 604.8ZM379.8 608.0L385.8 608.0L388.9 611.1L388.9 617.1L382.9 617.1L379.8 614.0ZM382.9 611.1L393.5 611.1L393.5 617.1L382.9 617.1ZM387.5 611.1L393.5 611.1L397.1 614.1L397.1 620.1L391.1 620.1L387.5 617.1ZM391.1 614.1L400.8 601.6L406.8 601.6L406.8 607.6L397.1 620.1L391.1 620.1ZM400.8 601.6L406.8 601.6L411.4 603.4L411.4 609.4L405.4 609.4L400.8 607.6ZM405.4 603.4L411.4 603.4L413.5 614.1L413.5 620.1L407.5 620.1L405.4 609.4ZM407.5 614.1L412.1 610.9L418.1 610.9L418.1 616.9L413.5 620.1L407.5 620.1ZM412.1 610.9L418.1 610.9L422.2 611.1L422.2 617.1L416.2 617.1L412.1 616.9ZM416.2 611.1L422.2 611.1L424.7 616.2L424.7 622.2L418.7 622.2L416.2 617.1ZM418.7 616.2L421.8 609.8L427.8 609.8L427.8 615.8L424.7 622.2L418.7 622.2ZM421.8 609.8L427.8 609.8L431.4 612.1L431.4 618.1L425.4 618.1L421.8 615.8ZM425.4 612.1L431.4 612.1L435.0 617.2L435.0 623.2L429.0 623.2L425.4 618.1ZM429.0 617.2L433.6 610.5L439.6 610.5L439.6 616.5L435.0 623.2L429.0 623.2ZM433.6 610.5L435.7 609.8L441.7 609.8L441.7 615.8L439.6 616.5L433.6 616.5ZM435.7 609.8L441.7 609.8L448.8 612.1L448.8 618.1L442.8 618.1L435.7 615.8ZM442.8 612.1L448.8 612.1L451.9 618.2L451.9 624.2L445.9 624.2L442.8 618.1ZM445.9 618.2L453.1 615.7L459.1 615.7L459.1 621.7L451.9 624.2L445.9 624.2ZM453.1 615.7L466.3 615.7L466.3 621.7L453.1 621.7ZM460.3 615.7L466.3 615.7L475.0 619.1L475.0 625.1L469.0 625.1L460.3 621.7ZM469.0 619.1L476.7 615.4L482.7 615.4L482.7 621.4L475.0 625.1L469.0 625.1ZM476.7 615.4L482.7 615.4L488.8 618.7L488.8 624.7L482.8 624.7L476.7 621.4ZM482.8 618.7L490.5 615.4L496.5 615.4L496.5 621.4L488.8 624.7L482.8 624.7ZM490.5 615.4L496.5 615.4L507.3 620.8L507.3 626.8L501.3 626.8L490.5 621.4ZM501.3 620.8L507.3 620.8L513.4 625.4L513.4 631.4L507.4 631.4L501.3 626.8ZM507.4 625.4L518.7 618.7L524.7 618.7L524.7 624.7L513.4 631.4L507.4 631.4ZM518.7 618.7L524.7 618.7L528.8 622.8L528.8 628.8L522.8 628.8L518.7 624.7ZM522.8 622.8L533.0 622.8L533.0 628.8L522.8 628.8ZM527.0 622.8L533.0 622.8L536.6 623.6L536.6 629.6L530.6 629.6L527.0 628.8ZM530.6 623.6L536.6 623.6L542.2 628.2L542.2 634.2L536.2 634.2L530.6 629.6ZM536.2 628.2L541.9 621.6L547.9 621.6L547.9 627.6L542.2 634.2L536.2 634.2ZM541.9 621.6L547.9 621.6L554.0 622.1L554.0 628.1L548.0 628.1L541.9 627.6ZM548.0 622.1L554.0 622.1L559.1 627.7L559.1 633.7L553.1 633.7L548.0 628.1ZM553.1 627.7L556.2 624.7L562.2 624.7L562.2 630.7L559.1 633.7L553.1 633.7ZM556.2 624.7L562.2 624.7L566.3 625.2L566.3 631.2L560.3 631.2L556.2 630.7ZM560.3 625.2L566.3 625.2L569.9 629.3L569.9 635.3L563.9 635.3L560.3 631.2ZM563.9 629.3L569.5 624.9L575.5 624.9L575.5 630.9L569.9 635.3L563.9 635.3ZM569.5 624.9L575.5 624.9L580.7 626.7L580.7 632.7L574.7 632.7L569.5 630.9ZM574.7 626.7L579.8 625.5L585.8 625.5L585.8 631.5L580.7 632.7L574.7 632.7ZM579.8 625.5L585.8 625.5L590.9 630.8L590.9 636.8L584.9 636.8L579.8 631.5ZM584.9 630.8L590.0 626.5L596.0 626.5L596.0 632.5L590.9 636.8L584.9 636.8ZM590.0 626.5L596.0 626.5L601.2 630.8L601.2 636.8L595.2 636.8L590.0 632.5ZM595.2 630.8L602.3 626.7L608.3 626.7L608.3 632.7L601.2 636.8L595.2 636.8ZM602.3 626.7L608.3 626.7L613.5 632.9L613.5 638.9L607.5 638.9L602.3 632.7ZM607.5 632.9L613.5 632.9L615.5 635.9L615.5 641.9L609.5 641.9L607.5 638.9ZM609.5 635.9L622.7 635.9L622.7 641.9L609.5 641.9ZM616.7 635.9L622.8 630.6L628.8 630.6L628.8 636.6L622.7 641.9L616.7 641.9ZM622.8 630.6L628.8 630.6L634.0 634.9L634.0 640.9L628.0 640.9L622.8 636.6ZM628.0 634.9L633.1 632.7L639.1 632.7L639.1 638.7L634.0 640.9L628.0 640.9ZM633.1 632.7L639.1 632.7L646.3 638.5L646.3 644.5L640.3 644.5L633.1 638.7ZM640.3 638.5L646.3 638.5L649.3 639.8L649.3 645.8L643.3 645.8L640.3 644.5ZM643.3 639.8L650.5 638.5L656.5 638.5L656.5 644.5L649.3 645.8L643.3 645.8ZM650.5 638.5L656.5 638.5L661.6 642.6L661.6 648.6L655.6 648.6L650.5 644.5ZM655.6 642.6L660.8 641.6L666.8 641.6L666.8 647.6L661.6 648.6L655.6 648.6ZM660.8 641.6L666.8 641.6L672.9 645.2L672.9 651.2L666.9 651.2L660.8 647.6ZM666.9 645.2L676.1 643.6L682.1 643.6L682.1 649.6L672.9 651.2L666.9 651.2ZM676.1 643.6L682.1 643.6L687.3 648.2L687.3 654.2L681.3 654.2L676.1 649.6ZM681.3 648.2L687.3 648.2L693.4 652.3L693.4 658.3L687.4 658.3L681.3 654.2ZM687.4 652.3L695.6 651.8L701.6 651.8L701.6 657.8L693.4 658.3L687.4 658.3ZM695.6 651.8L701.6 651.8L707.8 658.5L707.8 664.5L701.8 664.5L695.6 657.8ZM701.8 658.5L707.8 658.5L713.0 663.1L713.0 669.1L707.0 669.1L701.8 664.5ZM707.0 663.1L712.1 658.8L718.1 658.8L718.1 664.8L713.0 669.1L707.0 669.1ZM712.1 658.8L718.1 658.8L725.8 659.3L725.8 665.3L719.8 665.3L712.1 664.8ZM719.8 659.3L725.8 659.3L734.0 660.3L734.0 666.3L728.0 666.3L719.8 665.3ZM728.0 660.3L734.0 660.3L738.6 664.4L738.6 670.4L732.6 670.4L728.0 666.3ZM732.6 664.4L738.6 664.4L745.3 665.9L745.3 671.9L739.3 671.9L732.6 670.4ZM739.3 665.9L743.9 663.9L749.9 663.9L749.9 669.9L745.3 671.9L739.3 671.9ZM743.9 663.9L749.9 663.9L755.5 671.1L755.5 677.1L749.5 677.1L743.9 669.9ZM749.5 671.1L755.2 669.5L761.2 669.5L761.2 675.5L755.5 677.1L749.5 677.1ZM755.2 669.5L761.2 669.5L765.8 674.1L765.8 680.1L759.8 680.1L755.2 675.5ZM759.8 674.1L763.9 672.6L769.9 672.6L769.9 678.6L765.8 680.1L759.8 680.1ZM763.9 672.6L769.9 672.6L774.0 676.7L774.0 682.7L768.0 682.7L763.9 678.6ZM768.0 676.7L774.0 676.7L780.1 677.7L780.1 683.7L774.1 683.7L768.0 682.7ZM774.1 677.7L780.1 677.7L785.3 680.8L785.3 686.8L779.3 686.8L774.1 683.7ZM779.3 680.8L785.3 680.8L789.4 685.9L789.4 691.9L783.4 691.9L779.3 686.8ZM783.4 685.9L789.4 685.9L799.6 686.4L799.6 692.4L793.6 692.4L783.4 691.9ZM793.6 686.4L799.6 686.4L802.7 688.0L802.7 694.0L796.7 694.0L793.6 692.4ZM796.7 688.0L802.7 688.0L806.8 693.1L806.8 699.1L800.8 699.1L796.7 694.0ZM800.8 693.1L809.0 692.9L815.0 692.9L815.0 698.9L806.8 699.1L800.8 699.1ZM809.0 692.9L815.0 692.9L820.1 698.2L820.1 704.2L814.1 704.2L809.0 698.9ZM814.1 698.2L820.1 698.2L828.3 700.1L828.3 706.1L822.3 706.1L814.1 704.2ZM822.3 700.1L828.3 700.1L836.5 701.1L836.5 707.1L830.5 707.1L822.3 706.1ZM830.5 701.1L836.5 701.1L842.7 701.8L842.7 707.8L836.7 707.8L830.5 707.1ZM836.7 701.8L842.7 701.8L847.8 709.5L847.8 715.5L841.8 715.5L836.7 707.8ZM841.8 709.5L851.0 709.0L857.0 709.0L857.0 715.0L847.8 715.5L841.8 715.5ZM851.0 709.0L857.0 709.0L861.1 713.6L861.1 719.6L855.1 719.6L851.0 715.0ZM855.1 713.6L861.1 713.6L867.3 714.1L867.3 720.1L861.3 720.1L855.1 719.6ZM861.3 714.1L867.3 714.1L872.4 721.8L872.4 727.8L866.4 727.8L861.3 720.1ZM866.4 721.8L872.4 721.8L879.6 722.3L879.6 728.3L873.6 728.3L866.4 727.8ZM873.6 722.3L879.6 722.3L885.7 725.4L885.7 731.4L879.7 731.4L873.6 728.3ZM879.7 725.4L884.8 722.8L890.8 722.8L890.8 728.8L885.7 731.4L879.7 731.4ZM884.8 722.8L890.8 722.8L893.0 723.4L893.0 729.4L887.0 729.4L884.8 728.8ZM887.0 723.4L893.0 723.4L895.0 724.4L895.0 730.4L889.0 730.4L887.0 729.4ZM889.0 724.4L895.0 724.4L899.7 729.0L899.7 735.0L893.7 735.0L889.0 730.4ZM893.7 729.0L899.7 729.0L907.9 733.6L907.9 739.6L901.9 739.6L893.7 735.0ZM901.9 733.6L907.9 733.6L916.1 735.2L916.1 741.2L910.1 741.2L901.9 739.6ZM910.1 735.2L916.1 735.2L921.2 738.8L921.2 744.8L915.2 744.8L910.1 741.2ZM915.2 738.8L921.2 738.8L926.3 739.8L926.3 745.8L920.3 745.8L915.2 744.8ZM920.3 739.8L926.3 739.8L929.4 742.9L929.4 748.9L923.4 748.9L920.3 745.8ZM923.4 742.9L929.4 742.9L936.6 744.4L936.6 750.4L930.6 750.4L923.4 748.9ZM930.6 744.4L936.6 744.4L940.7 747.0L940.7 753.0L934.7 753.0L930.6 750.4ZM934.7 747.0L940.7 747.0L949.9 747.5L949.9 753.5L943.9 753.5L934.7 753.0ZM943.9 747.5L949.9 747.5L955.0 752.6L955.0 758.6L949.0 758.6L943.9 753.5ZM949.0 752.6L963.2 752.6L963.2 758.6L949.0 758.6ZM957.2 752.6L963.2 752.6L967.3 754.6L967.3 760.6L961.3 760.6L957.2 758.6ZM961.3 754.6L967.3 754.6L972.4 755.7L972.4 761.7L966.4 761.7L961.3 760.6ZM966.4 755.7L972.4 755.7L974.5 759.8L974.5 765.8L968.5 765.8L966.4 761.7ZM968.5 759.8L982.7 759.8L982.7 765.8L968.5 765.8ZM976.7 759.8L982.7 759.8L985.8 761.3L985.8 767.3L979.8 767.3L976.7 765.8ZM979.8 761.3L985.8 761.3L990.9 761.8L990.9 767.8L984.9 767.8L979.8 767.3ZM984.9 761.8L990.9 761.8L996.0 769.0L996.0 775.0L990.0 775.0L984.9 767.8ZM990.0 769.0L996.2 768.0L1002.2 768.0L1002.2 774.0L996.0 775.0L990.0 775.0ZM996.2 768.0L1006.3 768.0L1006.3 774.0L996.2 774.0ZM1000.3 768.0L1006.3 768.0L1014.5 772.1L1014.5 778.1L1008.5 778.1L1000.3 774.0ZM1008.5 772.1L1014.5 772.1L1021.6 772.6L1021.6 778.6L1015.6 778.6L1008.5 778.1ZM1015.6 772.6L1021.6 772.6L1026.3 776.7L1026.3 782.7L1020.3 782.7L1015.6 778.6ZM1020.3 776.7L1025.9 774.6L1031.9 774.6L1031.9 780.6L1026.3 782.7L1020.3 782.7ZM1025.9 774.6L1031.9 774.6L1036.0 776.7L1036.0 782.7L1030.0 782.7L1025.9 780.6ZM1030.0 776.7L1036.0 776.7L1042.1 782.3L1042.1 788.3L1036.1 788.3L1030.0 782.7ZM1036.1 782.3L1042.1 782.3L1051.4 782.8L1051.4 788.8L1045.4 788.8L1036.1 788.3ZM1045.4 782.8L1051.4 782.8L1054.4 785.4L1054.4 791.4L1048.4 791.4L1045.4 788.8ZM1048.4 785.4L1053.6 783.9L1059.6 783.9L1059.6 789.9L1054.4 791.4L1048.4 791.4ZM1053.6 783.9L1059.6 783.9L1067.8 784.4L1067.8 790.4L1061.8 790.4L1053.6 789.9ZM1061.8 784.4L1067.8 784.4L1073.0 788.5L1073.0 794.5L1067.0 794.5L1061.8 790.4ZM1067.0 788.5L1077.6 788.5L1077.6 794.5L1067.0 794.5ZM1071.6 788.5L1077.6 788.5L1081.7 791.3L1081.7 797.3L1075.7 797.3L1071.6 794.5ZM1075.7 791.3L1081.9 787.9L1087.9 787.9L1087.9 793.9L1081.7 797.3L1075.7 797.3ZM1081.9 787.9L1087.9 787.9L1093.0 791.8L1093.0 797.8L1087.0 797.8L1081.9 793.9ZM1087.0 791.8L1092.1 791.0L1098.1 791.0L1098.1 797.0L1093.0 797.8L1087.0 797.8ZM1092.1 791.0L1098.1 791.0L1102.2 795.9L1102.2 801.9L1096.2 801.9L1092.1 797.0ZM1096.2 795.9L1102.2 795.9L1111.4 797.0L1111.4 803.0L1105.4 803.0L1096.2 801.9ZM1105.4 797.0L1111.4 797.0L1119.6 798.0L1119.6 804.0L1113.6 804.0L1105.4 803.0ZM1113.6 798.0L1119.6 798.0L1123.7 801.1L1123.7 807.1L1117.7 807.1L1113.6 804.0ZM1117.7 801.1L1123.7 801.1L1129.9 801.6L1129.9 807.6L1123.9 807.6L1117.7 807.1ZM1123.9 801.6L1129.9 801.6L1135.0 805.2L1135.0 811.2L1129.0 811.2L1123.9 807.6ZM1129.0 805.2L1135.0 805.2L1142.2 806.2L1142.2 812.2L1136.2 812.2L1129.0 811.2ZM1136.2 806.2L1142.2 806.2L1146.3 806.7L1146.3 812.7L1140.3 812.7L1136.2 812.2ZM1140.3 806.7L1146.3 806.7L1150.4 809.3L1150.4 815.3L1144.4 815.3L1140.3 812.7ZM1144.4 809.3L1148.5 805.0L1154.5 805.0L1154.5 811.0L1150.4 815.3L1144.4 815.3ZM1148.5 805.0L1154.5 805.0L1159.6 805.2L1159.6 811.2L1153.6 811.2L1148.5 811.0ZM1153.6 805.2L1159.6 805.2L1163.7 808.7L1163.7 814.7L1157.7 814.7L1153.6 811.2ZM1157.7 808.7L1163.7 808.7L1170.9 809.3L1170.9 815.3L1164.9 815.3L1157.7 814.7ZM1164.9 809.3L1170.9 809.3L1176.0 811.3L1176.0 817.3L1170.0 817.3L1164.9 815.3ZM1170.0 811.3L1176.0 811.3L1182.2 812.3L1182.2 818.3L1176.2 818.3L1170.0 817.3ZM1176.2 812.3L1182.2 812.3L1188.3 814.9L1188.3 820.9L1182.3 820.9L1176.2 818.3ZM1182.3 814.9L1186.4 813.9L1192.4 813.9L1192.4 819.9L1188.3 820.9L1182.3 820.9ZM1186.4 813.9L1192.4 813.9L1198.6 816.2L1198.6 822.2L1192.6 822.2L1186.4 819.9ZM1192.6 816.2L1198.6 816.2L1204.7 816.9L1204.7 822.9L1198.7 822.9L1192.6 822.2ZM1198.7 816.9L1204.7 816.9L1208.8 819.3L1208.8 825.3L1202.8 825.3L1198.7 822.9ZM1202.8 819.3L1210.0 818.0L1216.0 818.0L1216.0 824.0L1208.8 825.3L1202.8 825.3ZM1210.0 818.0L1216.0 818.0L1221.1 818.3L1221.1 824.3L1215.1 824.3L1210.0 824.0ZM1215.1 818.3L1221.1 818.3L1227.3 821.6L1227.3 827.6L1221.3 827.6L1215.1 824.3ZM1221.3 821.6L1227.3 821.6L1233.4 823.1L1233.4 829.1L1227.4 829.1L1221.3 827.6ZM1227.4 823.1L1233.4 823.1L1239.1 823.3L1239.1 829.3L1233.1 829.3L1227.4 829.1ZM1233.1 823.3L1239.1 823.3L1247.8 824.6L1247.8 830.6L1241.8 830.6L1233.1 829.3ZM1241.8 824.6L1247.8 824.6L1253.0 826.2L1253.0 832.2L1247.0 832.2L1241.8 830.6ZM1247.0 826.2L1250.6 825.9L1256.6 825.9L1256.6 831.9L1253.0 832.2L1247.0 832.2ZM1250.6 825.9L1256.6 825.9L1261.7 830.6L1261.7 836.6L1255.7 836.6L1250.6 831.9ZM1255.7 830.6L1261.7 830.6L1264.8 831.1L1264.8 837.1L1258.8 837.1L1255.7 836.6ZM1258.8 831.1L1262.9 829.7L1268.9 829.7L1268.9 835.7L1264.8 837.1L1258.8 837.1ZM1262.9 829.7L1268.9 829.7L1278.1 831.1L1278.1 837.1L1272.1 837.1L1262.9 835.7ZM1272.1 831.1L1278.1 831.1L1284.3 836.2L1284.3 842.2L1278.3 842.2L1272.1 837.1ZM1278.3 836.2L1283.4 834.7L1289.4 834.7L1289.4 840.7L1284.3 842.2L1278.3 842.2ZM1283.4 834.7L1289.4 834.7L1300.7 837.0L1300.7 843.0L1294.7 843.0L1283.4 840.7ZM1294.7 837.0L1300.7 837.0L1308.9 841.3L1308.9 847.3L1302.9 847.3L1294.7 843.0ZM1302.9 841.3L1308.0 839.8L1314.0 839.8L1314.0 845.8L1308.9 847.3L1302.9 847.3ZM1308.0 839.8L1314.0 839.8L1318.1 840.0L1318.1 846.0L1312.1 846.0L1308.0 845.8ZM1312.1 840.0L1318.1 840.0L1323.2 843.9L1323.2 849.9L1317.2 849.9L1312.1 846.0ZM1317.2 843.9L1322.3 842.7L1328.3 842.7L1328.3 848.7L1323.2 849.9L1317.2 849.9ZM1322.3 842.7L1328.3 842.7L1332.4 842.9L1332.4 848.9L1326.4 848.9L1322.3 848.7ZM1326.4 842.9L1332.4 842.9L1336.5 845.9L1336.5 851.9L1330.5 851.9L1326.4 848.9ZM1330.5 845.9L1336.7 844.6L1342.7 844.6L1342.7 850.6L1336.5 851.9L1330.5 851.9ZM1336.7 844.6L1342.7 844.6L1346.8 844.9L1346.8 850.9L1340.8 850.9L1336.7 850.6ZM1340.8 844.9L1346.8 844.9L1350.9 851.1L1350.9 857.1L1344.9 857.1L1340.8 850.9ZM1344.9 851.1L1352.6 848.8L1358.6 848.8L1358.6 854.8L1350.9 857.1L1344.9 857.1ZM1352.6 848.8L1358.6 848.8L1362.2 850.0L1362.2 856.0L1356.2 856.0L1352.6 854.8ZM1356.2 850.0L1362.2 850.0L1367.3 855.2L1367.3 861.2L1361.3 861.2L1356.2 856.0ZM1361.3 855.2L1365.4 853.6L1371.4 853.6L1371.4 859.6L1367.3 861.2L1361.3 861.2ZM1365.4 853.6L1380.6 853.6L1380.6 859.6L1365.4 859.6ZM1374.6 853.6L1380.6 853.6L1384.7 856.7L1384.7 862.7L1378.7 862.7L1374.6 859.6ZM1378.7 856.7L1384.7 856.7L1388.8 857.7L1388.8 863.7L1382.8 863.7L1378.7 862.7ZM1382.8 857.7L1388.8 857.7L1393.9 860.8L1393.9 866.8L1387.9 866.8L1382.8 863.7ZM1387.9 860.8L1401.1 860.8L1401.1 866.8L1387.9 866.8ZM1395.1 860.8L1401.1 860.8L1407.3 865.4L1407.3 871.4L1401.3 871.4L1395.1 866.8ZM1401.3 865.4L1407.3 865.4L1419.6 865.6L1419.6 871.6L1413.6 871.6L1401.3 871.4ZM1413.6 865.6L1419.6 865.6L1425.7 871.0L1425.7 877.0L1419.7 877.0L1413.6 871.6ZM1419.7 871.0L1425.7 871.0L1433.0 871.6L1433.0 877.6L1427.0 877.6L1419.7 877.0ZM1427.0 871.6L1433.0 871.6L1439.7 873.6L1439.7 879.6L1433.7 879.6L1427.0 877.6ZM1433.7 873.6L1439.7 873.6L1444.3 875.2L1444.3 881.2L1438.3 881.2L1433.7 879.6ZM1438.3 875.2L1441.9 873.6L1447.9 873.6L1447.9 879.6L1444.3 881.2L1438.3 881.2ZM1441.9 873.6L1447.9 873.6L1452.0 874.1L1452.0 880.1L1446.0 880.1L1441.9 879.6ZM1446.0 874.1L1452.0 874.1L1456.1 880.3L1456.1 886.3L1450.1 886.3L1446.0 880.1ZM1450.1 880.3L1456.1 880.3L1467.3 881.3L1467.3 887.3L1461.3 887.3L1450.1 886.3ZM1461.3 881.3L1467.3 881.3L1478.6 884.9L1478.6 890.9L1472.6 890.9L1461.3 887.3ZM1472.6 884.9L1478.6 884.9L1489.9 890.5L1489.9 896.5L1483.9 896.5L1472.6 890.9ZM1483.9 890.5L1497.1 890.5L1497.1 896.5L1483.9 896.5ZM1491.1 890.5L1497.1 890.5L1501.2 895.7L1501.2 901.7L1495.2 901.7L1491.1 896.5ZM1495.2 895.7L1501.2 895.7L1507.3 896.2L1507.3 902.2L1501.3 902.2L1495.2 901.7ZM1501.3 896.2L1507.3 896.2L1510.4 898.7L1510.4 904.7L1504.4 904.7L1501.3 902.2ZM1504.4 898.7L1510.4 898.7L1521.7 899.8L1521.7 905.8L1515.7 905.8L1504.4 904.7ZM1515.7 899.8L1521.7 899.8L1525.8 900.8L1525.8 906.8L1519.8 906.8L1515.7 905.8ZM1519.8 900.8L1525.8 900.8L1529.9 904.4L1529.9 910.4L1523.9 910.4L1519.8 906.8ZM1523.9 904.4L1528.0 902.8L1534.0 902.8L1534.0 908.8L1529.9 910.4L1523.9 910.4ZM1528.0 902.8L1534.0 902.8L1545.2 905.9L1545.2 911.9L1539.2 911.9L1528.0 908.8ZM1539.2 905.9L1545.2 905.9L1554.5 911.6L1554.5 917.6L1548.5 917.6L1539.2 911.9ZM1548.5 911.6L1554.5 911.6L1565.7 911.8L1565.7 917.8L1559.7 917.8L1548.5 917.6ZM1559.7 911.8L1565.7 911.8L1569.8 914.8L1569.8 920.8L1563.8 920.8L1559.7 917.8ZM1563.8 914.8L1569.8 914.8L1579.1 915.1L1579.1 921.1L1573.1 921.1L1563.8 920.8ZM1573.1 915.1L1579.1 915.1L1588.3 920.6L1588.3 926.6L1582.3 926.6L1573.1 921.1ZM1582.3 920.6L1588.3 920.6L1597.5 921.3L1597.5 927.3L1591.5 927.3L1582.3 926.6ZM1591.5 921.3L1597.5 921.3L1604.7 922.3L1604.7 928.3L1598.7 928.3L1591.5 927.3ZM1598.7 922.3L1604.7 922.3L1613.0 926.4L1613.0 932.4L1607.0 932.4L1598.7 928.3ZM1607.0 926.4L1613.0 926.4L1616.6 927.7L1616.6 933.7L1610.6 933.7L1607.0 932.4ZM1610.6 927.7L1616.6 927.7L1620.7 930.0L1620.7 936.0L1614.7 936.0L1610.6 933.7ZM1614.7 930.0L1629.9 930.0L1629.9 936.0L1614.7 936.0ZM1623.9 930.0L1629.9 930.0L1636.1 933.9L1636.1 939.9L1630.1 939.9L1623.9 936.0ZM1630.1 933.9L1636.1 933.9L1644.3 934.9L1644.3 940.9L1638.3 940.9L1630.1 939.9ZM1638.3 934.9L1644.3 934.9L1648.4 936.4L1648.4 942.4L1642.4 942.4L1638.3 940.9ZM1642.4 936.4L1660.7 936.4L1660.7 942.4L1642.4 942.4ZM1654.7 936.4L1660.7 936.4L1664.8 940.0L1664.8 946.0L1658.8 946.0L1654.7 942.4ZM1658.8 940.0L1664.8 940.0L1670.9 941.1L1670.9 947.1L1664.9 947.1L1658.8 946.0ZM1664.9 941.1L1670.9 941.1L1675.0 943.6L1675.0 949.6L1669.0 949.6L1664.9 947.1ZM1669.0 943.6L1675.7 940.9L1681.7 940.9L1681.7 946.9L1675.0 949.6L1669.0 949.6ZM1675.7 940.9L1681.7 940.9L1687.3 943.1L1687.3 949.1L1681.3 949.1L1675.7 946.9ZM1681.3 943.1L1687.3 943.1L1693.5 943.6L1693.5 949.6L1687.5 949.6L1681.3 949.1ZM1687.5 943.6L1693.5 943.6L1697.6 947.2L1697.6 953.2L1691.6 953.2L1687.5 949.6ZM1691.6 947.2L1697.6 947.2L1704.7 948.2L1704.7 954.2L1698.7 954.2L1691.6 953.2ZM1698.7 948.2L1704.9 946.7L1710.9 946.7L1710.9 952.7L1704.7 954.2L1698.7 954.2ZM1704.9 946.7L1710.9 946.7L1718.1 950.3L1718.1 956.3L1712.1 956.3L1704.9 952.7ZM1712.1 950.3L1718.1 950.3L1725.2 952.8L1725.2 958.8L1719.2 958.8L1712.1 956.3ZM1719.2 952.8L1723.3 950.8L1729.3 950.8L1729.3 956.8L1725.2 958.8L1719.2 958.8ZM1723.3 950.8L1729.3 950.8L1735.5 951.1L1735.5 957.1L1729.5 957.1L1723.3 956.8ZM1729.5 951.1L1735.5 951.1L1740.6 953.4L1740.6 959.4L1734.6 959.4L1729.5 957.1ZM1734.6 953.4L1740.6 953.4L1750.9 954.9L1750.9 960.9L1744.9 960.9L1734.6 959.4ZM1744.9 954.9L1750.9 954.9L1757.0 956.2L1757.0 962.2L1751.0 962.2L1744.9 960.9ZM1751.0 956.2L1756.1 954.4L1762.1 954.4L1762.1 960.4L1757.0 962.2L1751.0 962.2ZM1756.1 954.4L1762.1 954.4L1769.3 958.0L1769.3 964.0L1763.3 964.0L1756.1 960.4ZM1763.3 958.0L1770.5 955.7L1776.5 955.7L1776.5 961.7L1769.3 964.0L1763.3 964.0ZM1770.5 955.7L1776.5 955.7L1782.6 959.5L1782.6 965.5L1776.6 965.5L1770.5 961.7ZM1776.6 959.5L1793.0 959.5L1793.0 965.5L1776.6 965.5ZM1787.0 959.5L1793.0 959.5L1800.1 962.6L1800.1 968.6L1794.1 968.6L1787.0 965.5ZM1794.1 962.6L1798.2 960.6L1804.2 960.6L1804.2 966.6L1800.1 968.6L1794.1 968.6ZM1798.2 960.6L1804.2 960.6L1807.3 962.6L1807.3 968.6L1801.3 968.6L1798.2 966.6ZM1801.3 962.6L1806.4 960.6L1812.4 960.6L1812.4 966.6L1807.3 968.6L1801.3 968.6ZM1806.4 960.6L1812.4 960.6L1815.5 961.1L1815.5 967.1L1809.5 967.1L1806.4 966.6ZM1809.5 961.1L1815.5 961.1L1820.6 965.7L1820.6 971.7L1814.6 971.7L1809.5 967.1ZM1814.6 965.7L1820.8 962.6L1826.8 962.6L1826.8 968.6L1820.6 971.7L1814.6 971.7ZM1820.8 962.6L1826.8 962.6L1835.0 965.2L1835.0 971.2L1829.0 971.2L1820.8 968.6ZM1829.0 965.2L1835.1 963.6L1841.1 963.6L1841.1 969.6L1835.0 971.2L1829.0 971.2ZM1835.1 963.6L1852.6 963.1L1858.6 963.1L1858.6 969.1L1841.1 969.6L1835.1 969.6ZM1852.6 963.1L1858.6 963.1L1863.7 968.2L1863.7 974.2L1857.7 974.2L1852.6 969.1ZM1857.7 968.2L1865.9 966.7L1871.9 966.7L1871.9 972.7L1863.7 974.2L1857.7 974.2ZM1865.9 966.7L1871.9 966.7L1878.0 968.8L1878.0 974.8L1872.0 974.8L1865.9 972.7ZM1872.0 968.8L1876.1 967.7L1882.1 967.7L1882.1 973.7L1878.0 974.8L1872.0 974.8ZM1876.1 967.7L1882.1 967.7L1887.3 968.2L1887.3 974.2L1881.3 974.2L1876.1 973.7Z"/>
<path fill="#008080" stroke="#008080" stroke-width="1.0" stroke-linejoin="round" fill-rule="nonzero" clip-path="url(#plot)" d="M152.0 657.3L160.3 655.8L166.3 655.8L166.3 661.8L158.0 663.3L152.0 663.3ZM160.3 655.8L166.3 655.8L171.5 660.9L171.5 666.9L165.5 666.9L160.3 661.8ZM165.5 660.9L169.0 652.5L175.0 652.5L175.0 658.5L171.5 666.9L165.5 666.9ZM169.0 652.5L175.0 652.5L179.7 654.8L179.7 660.8L173.7 660.8L169.0 658.5ZM173.7 654.8L179.7 654.8L182.2 670.6L182.2 676.6L176.2 676.6L173.7 660.8ZM176.2 670.6L184.9 659.9L190.9 659.9L190.9 665.9L182.2 676.6L176.2 676.6ZM184.9 659.9L191.1 659.4L197.1 659.4L197.1 665.4L190.9 665.9L184.9 665.9ZM191.1 659.4L197.1 659.4L202.7 684.5L202.7 690.5L196.7 690.5L191.1 665.4ZM196.7 684.5L207.3 684.5L207.3 690.5L196.7 690.5ZM201.3 684.5L203.9 677.3L209.9 677.3L209.9 683.3L207.3 690.5L201.3 690.5ZM203.9 677.3L209.9 677.3L213.5 680.4L213.5 686.4L207.5 686.4L203.9 683.3ZM207.5 680.4L211.1 679.4L217.1 679.4L217.1 685.4L213.5 686.4L207.5 686.4ZM211.1 679.4L217.1 679.4L220.1 697.3L220.1 703.3L214.1 703.3L211.1 685.4ZM214.1 697.3L217.7 695.2L223.7 695.2L223.7 701.2L220.1 703.3L214.1 703.3ZM217.7 695.2L220.8 677.3L226.8 677.3L226.8 683.3L223.7 701.2L217.7 701.2ZM220.8 677.3L226.8 677.3L229.9 680.4L229.9 686.4L223.9 686.4L220.8 683.3ZM223.9 680.4L229.9 680.4L233.0 697.8L233.0 703.8L227.0 703.8L223.9 686.4ZM227.0 697.8L233.0 697.8L239.1 699.9L239.1 705.9L233.1 705.9L227.0 703.8ZM233.1 699.9L239.1 699.9L241.2 711.1L241.2 717.1L235.2 717.1L233.1 705.9ZM235.2 711.1L239.3 705.5L245.3 705.5L245.3 711.5L241.2 717.1L235.2 717.1ZM239.3 705.5L248.3 705.5L248.3 711.5L239.3 711.5ZM242.3 705.5L248.3 705.5L250.9 718.3L250.9 724.3L244.9 724.3L242.3 711.5ZM244.9 718.3L253.6 712.7L259.6 712.7L259.6 718.7L250.9 724.3L244.9 724.3ZM253.6 712.7L259.6 712.7L268.3 718.3L268.3 724.3L262.3 724.3L253.6 718.7ZM262.3 718.3L266.9 714.2L272.9 714.2L272.9 720.2L268.3 724.3L262.3 724.3ZM266.9 714.2L272.9 714.2L278.1 725.5L278.1 731.5L272.1 731.5L266.9 720.2ZM272.1 725.5L278.1 725.5L284.2 728.6L284.2 734.6L278.2 734.6L272.1 731.5ZM278.2 728.6L284.2 728.6L288.8 736.3L288.8 742.3L282.8 742.3L278.2 734.6ZM282.8 736.3L285.4 728.6L291.4 728.6L291.4 734.6L288.8 742.3L282.8 742.3ZM285.4 728.6L289.5 728.4L295.5 728.4L295.5 734.4L291.4 734.6L285.4 734.6ZM289.5 728.4L295.5 728.4L299.6 738.3L299.6 744.3L293.6 744.3L289.5 734.4ZM293.6 738.3L296.7 733.7L302.7 733.7L302.7 739.7L299.6 744.3L293.6 744.3ZM296.7 733.7L306.8 733.7L306.8 739.7L296.7 739.7ZM300.8 733.7L306.8 733.7L310.9 743.9L310.9 749.9L304.9 749.9L300.8 739.7ZM304.9 743.9L310.0 742.9L316.0 742.9L316.0 748.9L310.9 749.9L304.9 749.9ZM310.0 742.9L316.0 742.9L321.1 748.0L321.1 754.0L315.1 754.0L310.0 748.9ZM315.1 748.0L322.3 741.9L328.3 741.9L328.3 747.9L321.1 754.0L315.1 754.0ZM322.3 741.9L328.3 741.9L333.9 743.9L333.9 749.9L327.9 749.9L322.3 747.9ZM327.9 743.9L332.5 739.6L338.5 739.6L338.5 745.6L333.9 749.9L327.9 749.9ZM332.5 739.6L338.5 739.6L342.6 743.9L342.6 749.9L336.6 749.9L332.5 745.6ZM336.6 743.9L342.6 743.9L347.8 755.2L347.8 761.2L341.8 761.2L336.6 749.9ZM341.8 755.2L347.0 754.2L353.0 754.2L353.0 760.2L347.8 761.2L341.8 761.2ZM347.0 754.2L353.0 754.2L354.5 754.7L354.5 760.7L348.5 760.7L347.0 760.2ZM348.5 754.7L354.5 754.7L358.1 759.3L358.1 765.3L352.1 765.3L348.5 760.7ZM352.1 759.3L356.7 757.8L362.7 757.8L362.7 763.8L358.1 765.3L352.1 765.3ZM356.7 757.8L360.8 755.2L366.8 755.2L366.8 761.2L362.7 763.8L356.7 763.8ZM360.8 755.2L368.0 754.7L374.0 754.7L374.0 760.7L366.8 761.2L360.8 761.2ZM368.0 754.7L372.1 748.8L378.1 748.8L378.1 754.8L374.0 760.7L368.0 760.7ZM372.1 748.8L374.2 748.4L380.2 748.4L380.2 754.4L378.1 754.8L372.1 754.8ZM374.2 748.4L380.2 748.4L383.7 751.7L383.7 757.7L377.7 757.7L374.2 754.4ZM377.7 751.7L383.7 751.7L385.8 760.9L385.8 766.9L379.8 766.9L377.7 757.7ZM379.8 760.9L385.8 760.9L388.9 764.0L388.9 770.0L382.9 770.0L379.8 766.9ZM382.9 764.0L393.5 764.0L393.5 770.0L382.9 770.0ZM387.5 764.0L393.5 764.0L397.1 767.0L397.1 773.0L391.1 773.0L387.5 770.0ZM391.1 767.0L400.8 754.5L406.8 754.5L406.8 760.5L397.1 773.0L391.1 773.0ZM400.8 754.5L406.8 754.5L411.4 756.3L411.4 762.3L405.4 762.3L400.8 760.5ZM405.4 756.3L411.4 756.3L413.5 767.0L413.5 773.0L407.5 773.0L405.4 762.3ZM407.5 767.0L412.1 763.8L418.1 763.8L418.1 769.8L413.5 773.0L407.5 773.0ZM412.1 763.8L418.1 763.8L422.2 764.0L422.2 770.0L416.2 770.0L412.1 769.8ZM416.2 764.0L422.2 764.0L424.7 769.1L424.7 775.1L418.7 775.1L416.2 770.0ZM418.7 769.1L421.8 762.7L427.8 762.7L427.8 768.7L424.7 775.1L418.7 775.1ZM421.8 762.7L427.8 762.7L431.4 765.0L431.4 771.0L425.4 771.0L421.8 768.7ZM425.4 765.0L431.4 765.0L435.0 770.1L435.0 776.1L429.0 776.1L425.4 771.0ZM429.0 770.1L433.6 763.4L439.6 763.4L439.6 769.4L435.0 776.1L429.0 776.1ZM433.6 763.4L435.7 762.7L441.7 762.7L441.7 768.7L439.6 769.4L433.6 769.4ZM435.7 762.7L441.7 762.7L448.8 765.0L448.8 771.0L442.8 771.0L435.7 768.7ZM442.8 765.0L448.8 765.0L451.9 771.1L451.9 777.1L445.9 777.1L442.8 771.0ZM445.9 771.1L453.1 768.6L459.1 768.6L459.1 774.6L451.9 777.1L445.9 777.1ZM453.1 768.6L466.3 768.6L466.3 774.6L453.1 774.6ZM460.3 768.6L466.3 768.6L475.0 772.0L475.0 778.0L469.0 778.0L460.3 774.6ZM469.0 772.0L476.7 768.3L482.7 768.3L482.7 774.3L475.0 778.0L469.0 778.0ZM476.7 768.3L482.7 768.3L488.8 771.6L488.8 777.6L482.8 777.6L476.7 774.3ZM482.8 771.6L490.5 768.3L496.5 768.3L496.5 774.3L488.8 777.6L482.8 777.6ZM490.5 768.3L496.5 768.3L507.3 773.7L507.3 779.7L501.3 779.7L490.5 774.3ZM501.3 773.7L507.3 773.7L513.4 778.3L513.4 784.3L507.4 784.3L501.3 779.7ZM507.4 778.3L518.7 771.6L524.7 771.6L524.7 777.6L513.4 784.3L507.4 784.3ZM518.7 771.6L524.7 771.6L528.8 775.7L528.8 781.7L522.8 781.7L518.7 777.6ZM522.8 775.7L533.0 775.7L533.0 781.7L522.8 781.7ZM527.0 775.7L533.0 775.7L536.6 776.5L536.6 782.5L530.6 782.5L527.0 781.7ZM530.6 776.5L536.6 776.5L542.2 781.1L542.2 787.1L536.2 787.1L530.6 782.5ZM536.2 781.1L541.9 774.5L547.9 774.5L547.9 780.5L542.2 787.1L536.2 787.1ZM541.9 774.5L547.9 774.5L554.0 775.0L554.0 781.0L548.0 781.0L541.9 780.5ZM548.0 775.0L554.0 775.0L559.1 780.6L559.1 786.6L553.1 786.6L548.0 781.0ZM553.1 780.6L556.2 777.6L562.2 777.6L562.2 783.6L559.1 786.6L553.1 786.6ZM556.2 777.6L562.2 777.6L566.3 778.1L566.3 784.1L560.3 784.1L556.2 783.6ZM560.3 778.1L566.3 778.1L569.9 782.2L569.9 788.2L563.9 788.2L560.3 784.1ZM563.9 782.2L569.5 777.8L575.5 777.8L575.5 783.8L569.9 788.2L563.9 788.2ZM569.5 777.8L575.5 777.8L580.7 779.6L580.7 785.6L574.7 785.6L569.5 783.8ZM574.7 779.6L579.8 778.4L585.8 778.4L585.8 784.4L580.7 785.6L574.7 785.6ZM579.8 778.4L585.8 778.4L590.9 783.7L590.9 789.7L584.9 789.7L579.8 784.4ZM584.9 783.7L590.0 779.4L596.0 779.4L596.0 785.4L590.9 789.7L584.9 789.7ZM590.0 779.4L596.0 779.4L601.2 783.7L601.2 789.7L595.2 789.7L590.0 785.4ZM595.2 783.7L602.3 779.6L608.3 779.6L608.3 785.6L601.2 789.7L595.2 789.7ZM602.3 779.6L608.3 779.6L613.5 785.8L613.5 791.8L607.5 791.8L602.3 785.6ZM607.5 785.8L613.5 785.8L615.5 788.8L615.5 794.8L609.5 794.8L607.5 791.8ZM609.5 788.8L622.7 788.8L622.7 794.8L609.5 794.8ZM616.7 788.8L622.8 783.5L628.8 783.5L628.8 789.5L622.7 794.8L616.7 794.8ZM622.8 783.5L628.8 783.5L634.0 787.8L634.0 793.8L628.0 793.8L622.8 789.5ZM628.0 787.8L633.1 785.6L639.1 785.6L639.1 791.6L634.0 793.8L628.0 793.8ZM633.1 785.6L639.1 785.6L646.3 791.4L646.3 797.4L640.3 797.4L633.1 791.6ZM640.3 791.4L646.3 791.4L649.3 792.7L649.3 798.7L643.3 798.7L640.3 797.4ZM643.3 792.7L650.5 791.4L656.5 791.4L656.5 797.4L649.3 798.7L643.3 798.7ZM650.5 791.4L656.5 791.4L661.6 795.5L661.6 801.5L655.6 801.5L650.5 797.4ZM655.6 795.5L660.8 794.5L666.8 794.5L666.8 800.5L661.6 801.5L655.6 801.5ZM660.8 794.5L666.8 794.5L672.9 798.1L672.9 804.1L666.9 804.1L660.8 800.5ZM666.9 798.1L676.1 796.5L682.1 796.5L682.1 802.5L672.9 804.1L666.9 804.1ZM676.1 796.5L682.1 796.5L687.3 801.1L687.3 807.1L681.3 807.1L676.1 802.5ZM681.3 801.1L687.3 801.1L693.4 805.2L693.4 811.2L687.4 811.2L681.3 807.1ZM687.4 805.2L695.6 804.7L701.6 804.7L701.6 810.7L693.4 811.2L687.4 811.2ZM695.6 804.7L701.6 804.7L707.8 811.4L707.8 817.4L701.8 817.4L695.6 810.7ZM701.8 811.4L707.8 811.4L713.0 816.0L713.0 822.0L707.0 822.0L701.8 817.4ZM707.0 816.0L712.1 811.7L718.1 811.7L718.1 817.7L713.0 822.0L707.0 822.0ZM712.1 811.7L718.1 811.7L725.8 812.2L725.8 818.2L719.8 818.2L712.1 817.7ZM719.8 812.2L725.8 812.2L734.0 813.2L734.0 819.2L728.0 819.2L719.8 818.2ZM728.0 813.2L734.0 813.2L738.6 817.3L738.6 823.3L732.6 823.3L728.0 819.2ZM732.6 817.3L738.6 817.3L745.3 818.8L745.3 824.8L739.3 824.8L732.6 823.3ZM739.3 818.8L743.9 816.8L749.9 816.8L749.9 822.8L745.3 824.8L739.3 824.8ZM743.9 816.8L749.9 816.8L755.5 824.0L755.5 830.0L749.5 830.0L743.9 822.8ZM749.5 824.0L755.2 822.4L761.2 822.4L761.2 828.4L755.5 830.0L749.5 830.0ZM755.2 822.4L761.2 822.4L765.8 827.0L765.8 833.0L759.8 833.0L755.2 828.4ZM759.8 827.0L763.9 825.5L769.9 825.5L769.9 831.5L765.8 833.0L759.8 833.0ZM763.9 825.5L769.9 825.5L774.0 829.6L774.0 835.6L768.0 835.6L763.9 831.5ZM768.0 829.6L774.0 829.6L780.1 830.6L780.1 836.6L774.1 836.6L768.0 835.6ZM774.1 830.6L780.1 830.6L785.3 833.7L785.3 839.7L779.3 839.7L774.1 836.6ZM779.3 833.7L785.3 833.7L789.4 838.8L789.4 844.8L783.4 844.8L779.3 839.7ZM783.4 838.8L789.4 838.8L799.6 839.3L799.6 845.3L793.6 845.3L783.4 844.8ZM793.6 839.3L799.6 839.3L802.7 840.9L802.7 846.9L796.7 846.9L793.6 845.3ZM796.7 840.9L802.7 840.9L806.8 846.0L806.8 852.0L800.8 852.0L796.7 846.9ZM800.8 846.0L809.0 845.8L815.0 845.8L815.0 851.8L806.8 852.0L800.8 852.0ZM809.0 845.8L815.0 845.8L820.1 851.1L820.1 857.1L814.1 857.1L809.0 851.8ZM814.1 851.1L820.1 851.1L828.3 853.0L828.3 859.0L822.3 859.0L814.1 857.1ZM822.3 853.0L828.3 853.0L836.5 854.0L836.5 860.0L830.5 860.0L822.3 859.0ZM830.5 854.0L836.5 854.0L842.7 854.7L842.7 860.7L836.7 860.7L830.5 860.0ZM836.7 854.7L842.7 854.7L847.8 862.4L847.8 868.4L841.8 868.4L836.7 860.7ZM841.8 862.4L851.0 861.9L857.0 861.9L857.0 867.9L847.8 868.4L841.8 868.4ZM851.0 861.9L857.0 861.9L861.1 866.5L861.1 872.5L855.1 872.5L851.0 867.9ZM855.1 866.5L861.1 866.5L867.3 867.0L867.3 873.0L861.3 873.0L855.1 872.5ZM861.3 867.0L867.3 867.0L872.4 874.7L872.4 880.7L866.4 880.7L861.3 873.0ZM866.4 874.7L872.4 874.7L879.6 875.2L879.6 881.2L873.6 881.2L866.4 880.7ZM873.6 875.2L879.6 875.2L885.7 878.3L885.7 884.3L879.7 884.3L873.6 881.2ZM879.7 878.3L884.8 875.7L890.8 875.7L890.8 881.7L885.7 884.3L879.7 884.3ZM884.8 875.7L890.8 875.7L893.0 876.3L893.0 882.3L887.0 882.3L884.8 881.7ZM887.0 876.3L893.0 876.3L895.0 877.3L895.0 883.3L889.0 883.3L887.0 882.3ZM889.0 877.3L895.0 877.3L899.7 881.9L899.7 887.9L893.7 887.9L889.0 883.3ZM893.7 881.9L899.7 881.9L907.9 886.5L907.9 892.5L901.9 892.5L893.7 887.9ZM901.9 886.5L907.9 886.5L916.1 888.1L916.1 894.1L910.1 894.1L901.9 892.5ZM910.1 888.1L916.1 888.1L921.2 891.7L921.2 897.7L915.2 897.7L910.1 894.1ZM915.2 891.7L921.2 891.7L926.3 892.7L926.3 898.7L920.3 898.7L915.2 897.7ZM920.3 892.7L926.3 892.7L929.4 895.8L929.4 901.8L923.4 901.8L920.3 898.7ZM923.4 895.8L929.4 895.8L936.6 897.3L936.6 903.3L930.6 903.3L923.4 901.8ZM930.6 897.3L936.6 897.3L940.7 899.9L940.7 905.9L934.7 905.9L930.6 903.3ZM934.7 899.9L940.7 899.9L949.9 900.4L949.9 906.4L943.9 906.4L934.7 905.9ZM943.9 900.4L949.9 900.4L955.0 905.5L955.0 911.5L949.0 911.5L943.9 906.4ZM949.0 905.5L963.2 905.5L963.2 911.5L949.0 911.5ZM957.2 905.5L963.2 905.5L967.3 907.5L967.3 913.5L961.3 913.5L957.2 911.5ZM961.3 907.5L967.3 907.5L972.4 908.6L972.4 914.6L966.4 914.6L961.3 913.5ZM966.4 908.6L972.4 908.6L974.5 912.7L974.5 918.7L968.5 918.7L966.4 914.6ZM968.5 912.7L982.7 912.7L982.7 918.7L968.5 918.7ZM976.7 912.7L982.7 912.7L985.8 914.2L985.8 920.2L979.8 920.2L976.7 918.7ZM979.8 914.2L985.8 914.2L990.9 914.7L990.9 920.7L984.9 920.7L979.8 920.2ZM984.9 914.7L990.9 914.7L996.0 921.9L996.0 927.9L990.0 927.9L984.9 920.7ZM990.0 921.9L996.2 920.9L1002.2 920.9L1002.2 926.9L996.0 927.9L990.0 927.9ZM996.2 920.9L1006.3 920.9L1006.3 926.9L996.2 926.9ZM1000.3 920.9L1006.3 920.9L1014.5 925.0L1014.5 931.0L1008.5 931.0L1000.3 926.9ZM1008.5 925.0L1014.5 925.0L1021.6 925.5L1021.6 931.5L1015.6 931.5L1008.5 931.0ZM1015.6 925.5L1021.6 925.5L1026.3 929.6L1026.3 935.6L1020.3 935.6L1015.6 931.5ZM1020.3 929.6L1025.9 927.5L1031.9 927.5L1031.9 933.5L1026.3 935.6L1020.3 935.6ZM1025.9 927.5L1031.9 927.5L1036.0 929.6L1036.0 935.6L1030.0 935.6L1025.9 933.5ZM1030.0 929.6L1036.0 929.6L1042.1 935.2L1042.1 941.2L1036.1 941.2L1030.0 935.6ZM1036.1 935.2L1042.1 935.2L1051.4 935.7L1051.4 941.7L1045.4 941.7L1036.1 941.2ZM1045.4 935.7L1051.4 935.7L1054.4 938.3L1054.4 944.3L1048.4 944.3L1045.4 941.7ZM1048.4 938.3L1053.6 936.8L1059.6 936.8L1059.6 942.8L1054.4 944.3L1048.4 944.3ZM1053.6 936.8L1059.6 936.8L1067.8 937.3L1067.8 943.3L1061.8 943.3L1053.6 942.8ZM1061.8 937.3L1067.8 937.3L1073.0 941.4L1073.0 947.4L1067.0 947.4L1061.8 943.3ZM1067.0 941.4L1077.6 941.4L1077.6 947.4L1067.0 947.4ZM1071.6 941.4L1077.6 941.4L1081.7 944.2L1081.7 950.2L1075.7 950.2L1071.6 947.4ZM1075.7 944.2L1081.9 940.8L1087.9 940.8L1087.9 946.8L1081.7 950.2L1075.7 950.2ZM1081.9 940.8L1087.9 940.8L1093.0 944.7L1093.0 950.7L1087.0 950.7L1081.9 946.8ZM1087.0 944.7L1092.1 943.9L1098.1 943.9L1098.1 949.9L1093.0 950.7L1087.0 950.7ZM1092.1 943.9L1098.1 943.9L1102.2 948.8L1102.2 954.8L1096.2 954.8L1092.1 949.9ZM1096.2 948.8L1102.2 948.8L1111.4 949.9L1111.4 955.9L1105.4 955.9L1096.2 954.8ZM1105.4 949.9L1111.4 949.9L1119.6 950.9L1119.6 956.9L1113.6 956.9L1105.4 955.9ZM1113.6 950.9L1119.6 950.9L1123.7 954.0L1123.7 960.0L1117.7 960.0L1113.6 956.9ZM1117.7 954.0L1123.7 954.0L1129.9 954.5L1129.9 960.5L1123.9 960.5L1117.7 960.0ZM1123.9 954.5L1129.9 954.5L1135.0 958.1L1135.0 964.1L1129.0 964.1L1123.9 960.5ZM1129.0 958.1L1135.0 958.1L1142.2 959.1L1142.2 965.1L1136.2 965.1L1129.0 964.1ZM1136.2 959.1L1142.2 959.1L1146.3 959.6L1146.3 965.6L1140.3 965.6L1136.2 965.1ZM1140.3 959.6L1146.3 959.6L1150.4 962.2L1150.4 968.2L1144.4 968.2L1140.3 965.6ZM1144.4 962.2L1148.5 957.9L1154.5 957.9L1154.5 963.9L1150.4 968.2L1144.4 968.2ZM1148.5 957.9L1154.5 957.9L1159.6 958.1L1159.6 964.1L1153.6 964.1L1148.5 963.9ZM1153.6 958.1L1159.6 958.1L1163.7 961.6L1163.7 967.6L1157.7 967.6L1153.6 964.1ZM1157.7 961.6L1163.7 961.6L1170.9 962.2L1170.9 968.2L1164.9 968.2L1157.7 967.6ZM1164.9 962.2L1170.9 962.2L1176.0 964.2L1176.0 970.2L1170.0 970.2L1164.9 968.2ZM1170.0 964.2L1176.0 964.2L1182.2 965.2L1182.2 971.2L1176.2 971.2L1170.0 970.2ZM1176.2 965.2L1182.2 965.2L1188.3 967.8L1188.3 973.8L1182.3 973.8L1176.2 971.2ZM1182.3 967.8L1186.4 966.8L1192.4 966.8L1192.4 972.8L1188.3 973.8L1182.3 973.8ZM1186.4 966.8L1192.4 966.8L1198.6 969.1L1198.6 975.1L1192.6 975.1L1186.4 972.8ZM1192.6 969.1L1198.6 969.1L1204.7 969.8L1204.7 975.8L1198.7 975.8L1192.6 975.1ZM1198.7 969.8L1204.7 969.8L1208.8 972.2L1208.8 978.2L1202.8 978.2L1198.7 975.8ZM1202.8 972.2L1210.0 970.9L1216.0 970.9L1216.0 976.9L1208.8 978.2L1202.8 978.2ZM1210.0 970.9L1216.0 970.9L1221.1 971.2L1221.1 977.2L1215.1 977.2L1210.0 976.9ZM1215.1 971.2L1221.1 971.2L1227.3 974.5L1227.3 980.5L1221.3 980.5L1215.1 977.2ZM1221.3 974.5L1227.3 974.5L1233.4 976.0L1233.4 982.0L1227.4 982.0L1221.3 980.5ZM1227.4 976.0L1233.4 976.0L1239.1 976.2L1239.1 982.2L1233.1 982.2L1227.4 982.0ZM1233.1 976.2L1239.1 976.2L1247.8 977.5L1247.8 983.5L1241.8 983.5L1233.1 982.2ZM1241.8 977.5L1247.8 977.5L1253.0 979.1L1253.0 985.1L1247.0 985.1L1241.8 983.5ZM1247.0 979.1L1250.6 978.8L1256.6 978.8L1256.6 984.8L1253.0 985.1L1247.0 985.1ZM1250.6 978.8L1256.6 978.8L1261.7 984.1L1261.7 990.1L1255.7 990.1L1250.6 984.8ZM1255.7 984.1L1269.9 984.1L1269.9 990.1L1255.7 990.1ZM1263.9 984.1L1269.0 980.9L1275.0 980.9L1275.0 986.9L1269.9 990.1L1263.9 990.1ZM1269.0 980.9L1275.0 980.9L1280.1 981.1L1280.1 987.1L1274.1 987.1L1269.0 986.9ZM1274.1 981.1L1280.1 981.1L1284.7 989.8L1284.7 995.8L1278.7 995.8L1274.1 987.1ZM1278.7 989.8L1282.3 987.7L1288.3 987.7L1288.3 993.7L1284.7 995.8L1278.7 995.8ZM1282.3 987.7L1283.4 987.6L1289.4 987.6L1289.4 993.6L1288.3 993.7L1282.3 993.7ZM1283.4 987.6L1289.4 987.6L1300.7 989.9L1300.7 995.9L1294.7 995.9L1283.4 993.6ZM1294.7 989.9L1300.7 989.9L1308.9 994.2L1308.9 1000.2L1302.9 1000.2L1294.7 995.9ZM1302.9 994.2L1308.0 992.7L1314.0 992.7L1314.0 998.7L1308.9 1000.2L1302.9 1000.2ZM1308.0 992.7L1314.0 992.7L1318.1 992.9L1318.1 998.9L1312.1 998.9L1308.0 998.7ZM1312.1 992.9L1318.1 992.9L1323.2 996.8L1323.2 1002.8L1317.2 1002.8L1312.1 998.9ZM1317.2 996.8L1322.3 995.6L1328.3 995.6L1328.3 1001.6L1323.2 1002.8L1317.2 1002.8ZM1322.3 995.6L1328.3 995.6L1332.4 995.8L1332.4 1001.8L1326.4 1001.8L1322.3 1001.6ZM1326.4 995.8L1332.4 995.8L1336.5 998.8L1336.5 1004.8L1330.5 1004.8L1326.4 1001.8ZM1330.5 998.8L1336.7 997.5L1342.7 997.5L1342.7 1003.5L1336.5 1004.8L1330.5 1004.8ZM1336.7 997.5L1342.7 997.5L1346.8 997.8L1346.8 1003.8L1340.8 1003.8L1336.7 1003.5ZM1340.8 997.8L1346.8 997.8L1350.9 1004.0L1350.9 1010.0L1344.9 1010.0L1340.8 1003.8ZM1344.9 1004.0L1352.6 1001.7L1358.6 1001.7L1358.6 1007.7L1350.9 1010.0L1344.9 1010.0ZM1352.6 1001.7L1358.6 1001.7L1362.2 1002.9L1362.2 1008.9L1356.2 1008.9L1352.6 1007.7ZM1356.2 1002.9L1362.2 1002.9L1367.3 1008.1L1367.3 1014.1L1361.3 1014.1L1356.2 1008.9ZM1361.3 1008.1L1365.4 1006.5L1371.4 1006.5L1371.4 1012.5L1367.3 1014.1L1361.3 1014.1ZM1365.4 1006.5L1380.6 1006.5L1380.6 1012.5L1365.4 1012.5ZM1374.6 1006.5L1380.6 1006.5L1384.7 1009.6L1384.7 1015.6L1378.7 1015.6L1374.6 1012.5ZM1378.7 1009.6L1384.7 1009.6L1388.8 1010.6L1388.8 1016.6L1382.8 1016.6L1378.7 1015.6ZM1382.8 1010.6L1388.8 1010.6L1393.9 1013.7L1393.9 1019.7L1387.9 1019.7L1382.8 1016.6ZM1387.9 1013.7L1401.1 1013.7L1401.1 1019.7L1387.9 1019.7ZM1395.1 1013.7L1401.1 1013.7L1407.3 1018.3L1407.3 1024.3L1401.3 1024.3L1395.1 1019.7ZM1401.3 1018.3L1407.3 1018.3L1419.6 1018.5L1419.6 1024.5L1413.6 1024.5L1401.3 1024.3ZM1413.6 1018.5L1419.6 1018.5L1425.7 1023.9L1425.7 1029.9L1419.7 1029.9L1413.6 1024.5ZM1419.7 1023.9L1425.7 1023.9L1433.0 1024.5L1433.0 1030.5L1427.0 1030.5L1419.7 1029.9ZM1427.0 1024.5L1433.0 1024.5L1439.7 1026.5L1439.7 1032.5L1433.7 1032.5L1427.0 1030.5ZM1433.7 1026.5L1439.7 1026.5L1444.3 1028.1L1444.3 1034.1L1438.3 1034.1L1433.7 1032.5ZM1438.3 1028.1L1441.9 1026.5L1447.9 1026.5L1447.9 1032.5L1444.3 1034.1L1438.3 1034.1ZM1441.9 1026.5L1447.9 1026.5L1452.0 1027.0L1452.0 1033.0L1446.0 1033.0L1441.9 1032.5ZM1446.0 1027.0L1452.0 1027.0L1456.1 1033.2L1456.1 1039.2L1450.1 1039.2L1446.0 1033.0ZM1450.1 1033.2L1456.1 1033.2L1467.3 1034.2L1467.3 1040.2L1461.3 1040.2L1450.1 1039.2ZM1461.3 1034.2L1467.3 1034.2L1478.6 1037.8L1478.6 1043.8L1472.6 1043.8L1461.3 1040.2ZM1472.6 1037.8L1478.6 1037.8L1489.9 1043.4L1489.9 1049.4L1483.9 1049.4L1472.6 1043.8ZM1483.9 1043.4L1497.1 1043.4L1497.1 1049.4L1483.9 1049.4ZM1491.1 1043.4L1497.1 1043.4L1501.2 1048.6L1501.2 1054.6L1495.2 1054.6L1491.1 1049.4ZM1495.2 1048.6L1501.2 1048.6L1507.3 1049.1L1507.3 1055.1L1501.3 1055.1L1495.2 1054.6ZM1501.3 1049.1L1507.3 1049.1L1510.4 1051.6L1510.4 1057.6L1504.4 1057.6L1501.3 1055.1ZM1504.4 1051.6L1510.4 1051.6L1521.7 1052.7L1521.7 1058.7L1515.7 1058.7L1504.4 1057.6ZM1515.7 1052.7L1521.7 1052.7L1525.8 1053.7L1525.8 1059.7L1519.8 1059.7L1515.7 1058.7ZM1519.8 1053.7L1525.8 1053.7L1529.9 1057.3L1529.9 1063.3L1523.9 1063.3L1519.8 1059.7ZM1523.9 1057.3L1528.0 1055.7L1534.0 1055.7L1534.0 1061.7L1529.9 1063.3L1523.9 1063.3ZM1528.0 1055.7L1534.0 1055.7L1545.2 1058.8L1545.2 1064.8L1539.2 1064.8L1528.0 1061.7ZM1539.2 1058.8L1545.2 1058.8L1554.5 1064.5L1554.5 1070.5L1548.5 1070.5L1539.2 1064.8ZM1548.5 1064.5L1554.5 1064.5L1565.7 1064.7L1565.7 1070.7L1559.7 1070.7L1548.5 1070.5ZM1559.7 1064.7L1565.7 1064.7L1569.8 1067.7L1569.8 1073.7L1563.8 1073.7L1559.7 1070.7ZM1563.8 1067.7L1569.8 1067.7L1579.1 1068.0L1579.1 1074.0L1573.1 1074.0L1563.8 1073.7ZM1573.1 1068.0L1579.1 1068.0L1588.3 1073.5L1588.3 1079.5L1582.3 1079.5L1573.1 1074.0ZM1582.3 1073.5L1588.3 1073.5L1597.5 1074.2L1597.5 1080.2L1591.5 1080.2L1582.3 1079.5ZM1591.5 1074.2L1597.5 1074.2L1604.7 1075.2L1604.7 1081.2L1598.7 1081.2L1591.5 1080.2ZM1598.7 1075.2L1604.7 1075.2L1613.0 1079.3L1613.0 1085.3L1607.0 1085.3L1598.7 1081.2ZM1607.0 1079.3L1613.0 1079.3L1616.6 1080.6L1616.6 1086.6L1610.6 1086.6L1607.0 1085.3ZM1610.6 1080.6L1616.6 1080.6L1620.7 1082.9L1620.7 1088.9L1614.7 1088.9L1610.6 1086.6ZM1614.7 1082.9L1629.9 1082.9L1629.9 1088.9L1614.7 1088.9ZM1623.9 1082.9L1629.9 1082.9L1636.1 1086.8L1636.1 1092.8L1630.1 1092.8L1623.9 1088.9ZM1630.1 1086.8L1636.1 1086.8L1644.3 1087.8L1644.3 1093.8L1638.3 1093.8L1630.1 1092.8ZM1638.3 1087.8L1644.3 1087.8L1648.4 1089.3L1648.4 1095.3L1642.4 1095.3L1638.3 1093.8ZM1642.4 1089.3L1660.7 1089.3L1660.7 1095.3L1642.4 1095.3ZM1654.7 1089.3L1660.7 1089.3L1664.8 1092.9L1664.8 1098.9L1658.8 1098.9L1654.7 1095.3ZM1658.8 1092.9L1664.8 1092.9L1670.9 1094.0L1670.9 1100.0L1664.9 1100.0L1658.8 1098.9ZM1664.9 1094.0L1670.9 1094.0L1675.0 1096.5L1675.0 1102.5L1669.0 1102.5L1664.9 1100.0ZM1669.0 1096.5L1675.7 1093.8L1681.7 1093.8L1681.7 1099.8L1675.0 1102.5L1669.0 1102.5ZM1675.7 1093.8L1681.7 1093.8L1687.3 1096.0L1687.3 1102.0L1681.3 1102.0L1675.7 1099.8ZM1681.3 1096.0L1687.3 1096.0L1693.5 1096.5L1693.5 1102.5L1687.5 1102.5L1681.3 1102.0ZM1687.5 1096.5L1693.5 1096.5L1697.6 1100.1L1697.6 1106.1L1691.6 1106.1L1687.5 1102.5ZM1691.6 1100.1L1697.6 1100.1L1704.7 1101.1L1704.7 1107.1L1698.7 1107.1L1691.6 1106.1ZM1698.7 1101.1L1704.9 1099.6L1710.9 1099.6L1710.9 1105.6L1704.7 1107.1L1698.7 1107.1ZM1704.9 1099.6L1710.9 1099.6L1718.1 1103.2L1718.1 1109.2L1712.1 1109.2L1704.9 1105.6ZM1712.1 1103.2L1718.1 1103.2L1725.2 1105.7L1725.2 1111.7L1719.2 1111.7L1712.1 1109.2ZM1719.2 1105.7L1723.3 1103.7L1729.3 1103.7L1729.3 1109.7L1725.2 1111.7L1719.2 1111.7ZM1723.3 1103.7L1729.3 1103.7L1735.5 1104.0L1735.5 1110.0L1729.5 1110.0L1723.3 1109.7ZM1729.5 1104.0L1735.5 1104.0L1740.6 1106.3L1740.6 1112.3L1734.6 1112.3L1729.5 1110.0ZM1734.6 1106.3L1740.6 1106.3L1750.9 1107.8L1750.9 1113.8L1744.9 1113.8L1734.6 1112.3ZM1744.9 1107.8L1750.9 1107.8L1757.0 1109.1L1757.0 1115.1L1751.0 1115.1L1744.9 1113.8ZM1751.0 1109.1L1756.1 1107.3L1762.1 1107.3L1762.1 1113.3L1757.0 1115.1L1751.0 1115.1ZM1756.1 1107.3L1762.1 1107.3L1769.3 1110.9L1769.3 1116.9L1763.3 1116.9L1756.1 1113.3ZM1763.3 1110.9L1770.5 1108.6L1776.5 1108.6L1776.5 1114.6L1769.3 1116.9L1763.3 1116.9ZM1770.5 1108.6L1776.5 1108.6L1782.6 1112.4L1782.6 1118.4L1776.6 1118.4L1770.5 1114.6ZM1776.6 1112.4L1776.7 1112.1L1782.7 1112.1L1782.7 1118.1L1782.6 1118.4L1776.6 1118.4ZM1776.7 1112.1L1795.0 1112.1L1795.0 1118.1L1776.7 1118.1ZM1789.0 1112.1L1795.0 1112.1L1800.1 1115.2L1800.1 1121.2L1794.1 1121.2L1789.0 1118.1ZM1794.1 1115.2L1808.5 1114.7L1814.5 1114.7L1814.5 1120.7L1800.1 1121.2L1794.1 1121.2ZM1808.5 1114.7L1814.5 1114.7L1820.6 1118.8L1820.6 1124.8L1814.6 1124.8L1808.5 1120.7ZM1814.6 1118.8L1821.3 1115.2L1827.3 1115.2L1827.3 1121.2L1820.6 1124.8L1814.6 1124.8ZM1821.3 1115.2L1827.3 1115.2L1835.0 1118.8L1835.0 1124.8L1829.0 1124.8L1821.3 1121.2ZM1829.0 1118.8L1835.1 1117.7L1841.1 1117.7L1841.1 1123.7L1835.0 1124.8L1829.0 1124.8ZM1835.1 1117.7L1840.3 1116.7L1846.3 1116.7L1846.3 1122.7L1841.1 1123.7L1835.1 1123.7ZM1840.3 1116.7L1858.6 1116.7L1858.6 1122.7L1840.3 1122.7ZM1852.6 1116.7L1858.6 1116.7L1864.7 1121.8L1864.7 1127.8L1858.7 1127.8L1852.6 1122.7ZM1858.7 1121.8L1865.9 1119.3L1871.9 1119.3L1871.9 1125.3L1864.7 1127.8L1858.7 1127.8ZM1865.9 1119.3L1871.9 1119.3L1879.1 1123.4L1879.1 1129.4L1873.1 1129.4L1865.9 1125.3ZM1873.1 1123.4L1878.2 1120.8L1884.2 1120.8L1884.2 1126.8L1879.1 1129.4L1873.1 1129.4ZM1878.2 1120.8L1884.2 1120.8L1887.3 1121.8L1887.3 1127.8L1881.3 1127.8L1878.2 1126.8Z"/>
<path fill="#00f" stroke="#00f" stroke-width="1.0" stroke-linejoin="round" fill-rule="nonzero" clip-path="url(#plot)" d="M152.0 798.3L160.3 796.8L166.3 796.8L166.3 802.8L158.0 804.3L152.0 804.3ZM160.3 796.8L166.3 796.8L171.5 801.9L171.5 807.9L165.5 807.9L160.3 802.8ZM165.5 801.9L169.0 793.5L175.0 793.5L175.0 799.5L171.5 807.9L165.5 807.9ZM169.0 793.5L175.0 793.5L179.7 795.8L179.7 801.8L173.7 801.8L169.0 799.5ZM173.7 795.8L179.7 795.8L182.2 811.6L182.2 817.6L176.2 817.6L173.7 801.8ZM176.2 811.6L184.9 800.9L190.9 800.9L190.9 806.9L182.2 817.6L176.2 817.6ZM184.9 800.9L191.1 800.4L197.1 800.4L197.1 806.4L190.9 806.9L184.9 806.9ZM191.1 800.4L197.1 800.4L202.7 825.5L202.7 831.5L196.7 831.5L191.1 806.4ZM196.7 825.5L207.3 825.5L207.3 831.5L196.7 831.5ZM201.3 825.5L203.9 818.3L209.9 818.3L209.9 824.3L207.3 831.5L201.3 831.5ZM203.9 818.3L209.9 818.3L213.5 821.4L213.5 827.4L207.5 827.4L203.9 824.3ZM207.5 821.4L211.1 820.4L217.1 820.4L217.1 826.4L213.5 827.4L207.5 827.4ZM211.1 820.4L217.1 820.4L220.1 838.3L220.1 844.3L214.1 844.3L211.1 826.4ZM214.1 838.3L217.7 836.2L223.7 836.2L223.7 842.2L220.1 844.3L214.1 844.3ZM217.7 836.2L220.8 818.3L226.8 818.3L226.8 824.3L223.7 842.2L217.7 842.2ZM220.8 818.3L226.8 818.3L229.9 821.4L229.9 827.4L223.9 827.4L220.8 824.3ZM223.9 821.4L229.9 821.4L233.0 838.8L233.0 844.8L227.0 844.8L223.9 827.4ZM227.0 838.8L233.0 838.8L239.1 840.9L239.1 846.9L233.1 846.9L227.0 844.8ZM233.1 840.9L239.1 840.9L241.2 852.1L241.2 858.1L235.2 858.1L233.1 846.9ZM235.2 852.1L239.3 846.5L245.3 846.5L245.3 852.5L241.2 858.1L235.2 858.1ZM239.3 846.5L248.3 846.5L248.3 852.5L239.3 852.5ZM242.3 846.5L248.3 846.5L250.9 859.3L250.9 865.3L244.9 865.3L242.3 852.5ZM244.9 859.3L253.6 853.7L259.6 853.7L259.6 859.7L250.9 865.3L244.9 865.3ZM253.6 853.7L259.6 853.7L268.3 859.3L268.3 865.3L262.3 865.3L253.6 859.7ZM262.3 859.3L266.9 855.2L272.9 855.2L272.9 861.2L268.3 865.3L262.3 865.3ZM266.9 855.2L272.9 855.2L278.1 866.5L278.1 872.5L272.1 872.5L266.9 861.2ZM272.1 866.5L278.1 866.5L284.2 869.6L284.2 875.6L278.2 875.6L272.1 872.5ZM278.2 869.6L284.2 869.6L288.8 877.3L288.8 883.3L282.8 883.3L278.2 875.6ZM282.8 877.3L285.4 869.6L291.4 869.6L291.4 875.6L288.8 883.3L282.8 883.3ZM285.4 869.6L289.5 869.4L295.5 869.4L295.5 875.4L291.4 875.6L285.4 875.6ZM289.5 869.4L295.5 869.4L299.6 879.3L299.6 885.3L293.6 885.3L289.5 875.4ZM293.6 879.3L296.7 874.7L302.7 874.7L302.7 880.7L299.6 885.3L293.6 885.3ZM296.7 874.7L306.8 874.7L306.8 880.7L296.7 880.7ZM300.8 874.7L306.8 874.7L310.9 884.9L310.9 890.9L304.9 890.9L300.8 880.7ZM304.9 884.9L310.0 883.9L316.0 883.9L316.0 889.9L310.9 890.9L304.9 890.9ZM310.0 883.9L316.0 883.9L321.1 889.0L321.1 895.0L315.1 895.0L310.0 889.9ZM315.1 889.0L322.3 882.9L328.3 882.9L328.3 888.9L321.1 895.0L315.1 895.0ZM322.3 882.9L328.3 882.9L333.9 884.9L333.9 890.9L327.9 890.9L322.3 888.9ZM327.9 884.9L332.5 880.6L338.5 880.6L338.5 886.6L333.9 890.9L327.9 890.9ZM332.5 880.6L338.5 880.6L342.6 884.9L342.6 890.9L336.6 890.9L332.5 886.6ZM336.6 884.9L342.6 884.9L347.8 896.2L347.8 902.2L341.8 902.2L336.6 890.9ZM341.8 896.2L347.0 895.2L353.0 895.2L353.0 901.2L347.8 902.2L341.8 902.2ZM347.0 895.2L353.0 895.2L354.5 895.7L354.5 901.7L348.5 901.7L347.0 901.2ZM348.5 895.7L354.5 895.7L358.1 900.3L358.1 906.3L352.1 906.3L348.5 901.7ZM352.1 900.3L356.7 898.8L362.7 898.8L362.7 904.8L358.1 906.3L352.1 906.3ZM356.7 898.8L360.8 896.2L366.8 896.2L366.8 902.2L362.7 904.8L356.7 904.8ZM360.8 896.2L368.0 895.7L374.0 895.7L374.0 901.7L366.8 902.2L360.8 902.2ZM368.0 895.7L372.1 889.8L378.1 889.8L378.1 895.8L374.0 901.7L368.0 901.7ZM372.1 889.8L374.2 889.4L380.2 889.4L380.2 895.4L378.1 895.8L372.1 895.8ZM374.2 889.4L380.2 889.4L383.7 892.7L383.7 898.7L377.7 898.7L374.2 895.4ZM377.7 892.7L383.7 892.7L385.8 901.9L385.8 907.9L379.8 907.9L377.7 898.7ZM379.8 901.9L385.8 901.9L388.9 905.0L388.9 911.0L382.9 911.0L379.8 907.9ZM382.9 905.0L393.5 905.0L393.5 911.0L382.9 911.0ZM387.5 905.0L393.5 905.0L397.1 908.0L397.1 914.0L391.1 914.0L387.5 911.0ZM391.1 908.0L400.8 895.5L406.8 895.5L406.8 901.5L397.1 914.0L391.1 914.0ZM400.8 895.5L406.8 895.5L411.4 897.3L411.4 903.3L405.4 903.3L400.8 901.5ZM405.4 897.3L411.4 897.3L413.5 908.0L413.5 914.0L407.5 914.0L405.4 903.3ZM407.5 908.0L412.1 904.8L418.1 904.8L418.1 910.8L413.5 914.0L407.5 914.0ZM412.1 904.8L418.1 904.8L422.2 905.0L422.2 911.0L416.2 911.0L412.1 910.8ZM416.2 905.0L422.2 905.0L424.7 910.1L424.7 916.1L418.7 916.1L416.2 911.0ZM418.7 910.1L421.8 903.7L427.8 903.7L427.8 909.7L424.7 916.1L418.7 916.1ZM421.8 903.7L427.8 903.7L431.4 906.0L431.4 912.0L425.4 912.0L421.8 909.7ZM425.4 906.0L431.4 906.0L435.0 911.1L435.0 917.1L429.0 917.1L425.4 912.0ZM429.0 911.1L433.6 904.4L439.6 904.4L439.6 910.4L435.0 917.1L429.0 917.1ZM433.6 904.4L435.7 903.7L441.7 903.7L441.7 909.7L439.6 910.4L433.6 910.4ZM435.7 903.7L441.7 903.7L448.8 906.0L448.8 912.0L442.8 912.0L435.7 909.7ZM442.8 906.0L448.8 906.0L451.9 912.1L451.9 918.1L445.9 918.1L442.8 912.0ZM445.9 912.1L453.1 909.6L459.1 909.6L459.1 915.6L451.9 918.1L445.9 918.1ZM453.1 909.6L466.3 909.6L466.3 915.6L453.1 915.6ZM460.3 909.6L466.3 909.6L475.0 913.0L475.0 919.0L469.0 919.0L460.3 915.6ZM469.0 913.0L476.7 909.3L482.7 909.3L482.7 915.3L475.0 919.0L469.0 919.0ZM476.7 909.3L482.7 909.3L488.8 912.6L488.8 918.6L482.8 918.6L476.7 915.3ZM482.8 912.6L490.5 909.3L496.5 909.3L496.5 915.3L488.8 918.6L482.8 918.6ZM490.5 909.3L496.5 909.3L507.3 914.7L507.3 920.7L501.3 920.7L490.5 915.3ZM501.3 914.7L507.3 914.7L513.4 919.3L513.4 925.3L507.4 925.3L501.3 920.7ZM507.4 919.3L518.7 912.6L524.7 912.6L524.7 918.6L513.4 925.3L507.4 925.3ZM518.7 912.6L524.7 912.6L528.8 916.7L528.8 922.7L522.8 922.7L518.7 918.6ZM522.8 916.7L533.0 916.7L533.0 922.7L522.8 922.7ZM527.0 916.7L533.0 916.7L536.6 917.5L536.6 923.5L530.6 923.5L527.0 922.7ZM530.6 917.5L536.6 917.5L542.2 922.1L542.2 928.1L536.2 928.1L530.6 923.5ZM536.2 922.1L541.9 915.5L547.9 915.5L547.9 921.5L542.2 928.1L536.2 928.1ZM541.9 915.5L547.9 915.5L554.0 916.0L554.0 922.0L548.0 922.0L541.9 921.5ZM548.0 916.0L554.0 916.0L559.1 921.6L559.1 927.6L553.1 927.6L548.0 922.0ZM553.1 921.6L556.2 918.6L562.2 918.6L562.2 924.6L559.1 927.6L553.1 927.6ZM556.2 918.6L562.2 918.6L566.3 919.1L566.3 925.1L560.3 925.1L556.2 924.6ZM560.3 919.1L566.3 919.1L569.9 923.2L569.9 929.2L563.9 929.2L560.3 925.1ZM563.9 923.2L569.5 918.8L575.5 918.8L575.5 924.8L569.9 929.2L563.9 929.2ZM569.5 918.8L575.5 918.8L580.7 920.6L580.7 926.6L574.7 926.6L569.5 924.8ZM574.7 920.6L579.8 919.4L585.8 919.4L585.8 925.4L580.7 926.6L574.7 926.6ZM579.8 919.4L585.8 919.4L590.9 924.7L590.9 930.7L584.9 930.7L579.8 925.4ZM584.9 924.7L590.0 920.4L596.0 920.4L596.0 926.4L590.9 930.7L584.9 930.7ZM590.0 920.4L596.0 920.4L601.2 924.7L601.2 930.7L595.2 930.7L590.0 926.4ZM595.2 924.7L602.3 920.6L608.3 920.6L608.3 926.6L601.2 930.7L595.2 930.7ZM602.3 920.6L608.3 920.6L613.5 926.8L613.5 932.8L607.5 932.8L602.3 926.6ZM607.5 926.8L613.5 926.8L615.5 929.8L615.5 935.8L609.5 935.8L607.5 932.8ZM609.5 929.8L622.7 929.8L622.7 935.8L609.5 935.8ZM616.7 929.8L622.8 924.5L628.8 924.5L628.8 930.5L622.7 935.8L616.7 935.8ZM622.8 924.5L628.8 924.5L634.0 928.8L634.0 934.8L628.0 934.8L622.8 930.5ZM628.0 928.8L633.1 926.6L639.1 926.6L639.1 932.6L634.0 934.8L628.0 934.8ZM633.1 926.6L639.1 926.6L646.3 932.4L646.3 938.4L640.3 938.4L633.1 932.6ZM640.3 932.4L646.3 932.4L649.3 933.7L649.3 939.7L643.3 939.7L640.3 938.4ZM643.3 933.7L650.5 932.4L656.5 932.4L656.5 938.4L649.3 939.7L643.3 939.7ZM650.5 932.4L656.5 932.4L661.6 936.5L661.6 942.5L655.6 942.5L650.5 938.4ZM655.6 936.5L660.8 935.5L666.8 935.5L666.8 941.5L661.6 942.5L655.6 942.5ZM660.8 935.5L666.8 935.5L672.9 939.1L672.9 945.1L666.9 945.1L660.8 941.5ZM666.9 939.1L676.1 937.5L682.1 937.5L682.1 943.5L672.9 945.1L666.9 945.1ZM676.1 937.5L682.1 937.5L687.3 942.1L687.3 948.1L681.3 948.1L676.1 943.5ZM681.3 942.1L687.3 942.1L693.4 946.2L693.4 952.2L687.4 952.2L681.3 948.1ZM687.4 946.2L695.6 945.7L701.6 945.7L701.6 951.7L693.4 952.2L687.4 952.2ZM695.6 945.7L701.6 945.7L707.8 952.4L707.8 958.4L701.8 958.4L695.6 951.7ZM701.8 952.4L707.8 952.4L713.0 957.0L713.0 963.0L707.0 963.0L701.8 958.4ZM707.0 957.0L712.1 952.7L718.1 952.7L718.1 958.7L713.0 963.0L707.0 963.0ZM712.1 952.7L718.1 952.7L725.8 953.2L725.8 959.2L719.8 959.2L712.1 958.7ZM719.8 953.2L725.8 953.2L734.0 954.2L734.0 960.2L728.0 960.2L719.8 959.2ZM728.0 954.2L734.0 954.2L738.6 958.3L738.6 964.3L732.6 964.3L728.0 960.2ZM732.6 958.3L738.6 958.3L745.3 959.8L745.3 965.8L739.3 965.8L732.6 964.3ZM739.3 959.8L743.9 957.8L749.9 957.8L749.9 963.8L745.3 965.8L739.3 965.8ZM743.9 957.8L749.9 957.8L755.5 965.0L755.5 971.0L749.5 971.0L743.9 963.8ZM749.5 965.0L755.2 963.4L761.2 963.4L761.2 969.4L755.5 971.0L749.5 971.0ZM755.2 963.4L761.2 963.4L765.8 968.0L765.8 974.0L759.8 974.0L755.2 969.4ZM759.8 968.0L763.9 966.5L769.9 966.5L769.9 972.5L765.8 974.0L759.8 974.0ZM763.9 966.5L769.9 966.5L774.0 970.6L774.0 976.6L768.0 976.6L763.9 972.5ZM768.0 970.6L774.0 970.6L780.1 971.6L780.1 977.6L774.1 977.6L768.0 976.6ZM774.1 971.6L780.1 971.6L785.3 974.7L785.3 980.7L779.3 980.7L774.1 977.6ZM779.3 974.7L785.3 974.7L789.4 979.8L789.4 985.8L783.4 985.8L779.3 980.7ZM783.4 979.8L789.4 979.8L799.6 980.3L799.6 986.3L793.6 986.3L783.4 985.8ZM793.6 980.3L799.6 980.3L802.7 981.9L802.7 987.9L796.7 987.9L793.6 986.3ZM796.7 981.9L802.7 981.9L806.8 987.0L806.8 993.0L800.8 993.0L796.7 987.9ZM800.8 987.0L809.0 986.8L815.0 986.8L815.0 992.8L806.8 993.0L800.8 993.0ZM809.0 986.8L815.0 986.8L820.1 992.1L820.1 998.1L814.1 998.1L809.0 992.8ZM814.1 992.1L820.1 992.1L828.3 994.0L828.3 1000.0L822.3 1000.0L814.1 998.1ZM822.3 994.0L828.3 994.0L836.5 995.0L836.5 1001.0L830.5 1001.0L822.3 1000.0ZM830.5 995.0L836.5 995.0L842.7 995.7L842.7 1001.7L836.7 1001.7L830.5 1001.0ZM836.7 995.7L842.7 995.7L847.8 1003.4L847.8 1009.4L841.8 1009.4L836.7 1001.7ZM841.8 1003.4L851.0 1002.9L857.0 1002.9L857.0 1008.9L847.8 1009.4L841.8 1009.4ZM851.0 1002.9L857.0 1002.9L861.1 1007.5L861.1 1013.5L855.1 1013.5L851.0 1008.9ZM855.1 1007.5L861.1 1007.5L867.3 1008.0L867.3 1014.0L861.3 1014.0L855.1 1013.5ZM861.3 1008.0L867.3 1008.0L872.4 1015.7L872.4 1021.7L866.4 1021.7L861.3 1014.0ZM866.4 1015.7L872.4 1015.7L879.6 1016.2L879.6 1022.2L873.6 1022.2L866.4 1021.7ZM873.6 1016.2L879.6 1016.2L885.7 1019.3L885.7 1025.3L879.7 1025.3L873.6 1022.2ZM879.7 1019.3L884.8 1016.7L890.8 1016.7L890.8 1022.7L885.7 1025.3L879.7 1025.3ZM884.8 1016.7L890.8 1016.7L893.0 1017.3L893.0 1023.3L887.0 1023.3L884.8 1022.7ZM887.0 1017.3L893.0 1017.3L895.0 1018.3L895.0 1024.3L889.0 1024.3L887.0 1023.3ZM889.0 1018.3L895.0 1018.3L899.7 1022.9L899.7 1028.9L893.7 1028.9L889.0 1024.3ZM893.7 1022.9L899.7 1022.9L907.9 1027.5L907.9 1033.5L901.9 1033.5L893.7 1028.9ZM901.9 1027.5L907.9 1027.5L916.1 1029.1L916.1 1035.1L910.1 1035.1L901.9 1033.5ZM910.1 1029.1L916.1 1029.1L921.2 1032.7L921.2 1038.7L915.2 1038.7L910.1 1035.1ZM915.2 1032.7L921.2 1032.7L926.3 1033.7L926.3 1039.7L920.3 1039.7L915.2 1038.7ZM920.3 1033.7L926.3 1033.7L929.4 1036.8L929.4 1042.8L923.4 1042.8L920.3 1039.7ZM923.4 1036.8L929.4 1036.8L936.6 1038.3L936.6 1044.3L930.6 1044.3L923.4 1042.8ZM930.6 1038.3L936.6 1038.3L940.7 1040.9L940.7 1046.9L934.7 1046.9L930.6 1044.3ZM934.7 1040.9L940.7 1040.9L949.9 1041.4L949.9 1047.4L943.9 1047.4L934.7 1046.9ZM943.9 1041.4L949.9 1041.4L955.0 1046.5L955.0 1052.5L949.0 1052.5L943.9 1047.4ZM949.0 1046.5L963.2 1046.5L963.2 1052.5L949.0 1052.5ZM957.2 1046.5L963.2 1046.5L967.3 1048.5L967.3 1054.5L961.3 1054.5L957.2 1052.5ZM961.3 1048.5L967.3 1048.5L972.4 1049.6L972.4 1055.6L966.4 1055.6L961.3 1054.5ZM966.4 1049.6L972.4 1049.6L974.5 1053.7L974.5 1059.7L968.5 1059.7L966.4 1055.6ZM968.5 1053.7L982.7 1053.7L982.7 1059.7L968.5 1059.7ZM976.7 1053.7L982.7 1053.7L985.8 1055.2L985.8 1061.2L979.8 1061.2L976.7 1059.7ZM979.8 1055.2L985.8 1055.2L990.9 1055.7L990.9 1061.7L984.9 1061.7L979.8 1061.2ZM984.9 1055.7L990.9 1055.7L996.0 1062.9L996.0 1068.9L990.0 1068.9L984.9 1061.7ZM990.0 1062.9L996.2 1061.9L1002.2 1061.9L1002.2 1067.9L996.0 1068.9L990.0 1068.9ZM996.2 1061.9L1006.3 1061.9L1006.3 1067.9L996.2 1067.9ZM1000.3 1061.9L1006.3 1061.9L1014.5 1066.0L1014.5 1072.0L1008.5 1072.0L1000.3 1067.9ZM1008.5 1066.0L1014.5 1066.0L1021.6 1066.5L1021.6 1072.5L1015.6 1072.5L1008.5 1072.0ZM1015.6 1066.5L1021.6 1066.5L1026.3 1070.6L1026.3 1076.6L1020.3 1076.6L1015.6 1072.5ZM1020.3 1070.6L1025.9 1068.5L1031.9 1068.5L1031.9 1074.5L1026.3 1076.6L1020.3 1076.6ZM1025.9 1068.5L1031.9 1068.5L1036.0 1070.6L1036.0 1076.6L1030.0 1076.6L1025.9 1074.5ZM1030.0 1070.6L1036.0 1070.6L1042.1 1076.2L1042.1 1082.2L1036.1 1082.2L1030.0 1076.6ZM1036.1 1076.2L1042.1 1076.2L1051.4 1076.7L1051.4 1082.7L1045.4 1082.7L1036.1 1082.2ZM1045.4 1076.7L1051.4 1076.7L1054.4 1079.3L1054.4 1085.3L1048.4 1085.3L1045.4 1082.7ZM1048.4 1079.3L1053.6 1077.8L1059.6 1077.8L1059.6 1083.8L1054.4 1085.3L1048.4 1085.3ZM1053.6 1077.8L1059.6 1077.8L1067.8 1078.3L1067.8 1084.3L1061.8 1084.3L1053.6 1083.8ZM1061.8 1078.3L1067.8 1078.3L1073.0 1082.4L1073.0 1088.4L1067.0 1088.4L1061.8 1084.3ZM1067.0 1082.4L1077.6 1082.4L1077.6 1088.4L1067.0 1088.4ZM1071.6 1082.4L1077.6 1082.4L1081.7 1085.2L1081.7 1091.2L1075.7 1091.2L1071.6 1088.4ZM1075.7 1085.2L1081.9 1081.8L1087.9 1081.8L1087.9 1087.8L1081.7 1091.2L1075.7 1091.2ZM1081.9 1081.8L1087.9 1081.8L1093.0 1085.7L1093.0 1091.7L1087.0 1091.7L1081.9 1087.8ZM1087.0 1085.7L1092.1 1084.9L1098.1 1084.9L1098.1 1090.9L1093.0 1091.7L1087.0 1091.7ZM1092.1 1084.9L1098.1 1084.9L1102.2 1089.8L1102.2 1095.8L1096.2 1095.8L1092.1 1090.9ZM1096.2 1089.8L1102.2 1089.8L1111.4 1090.9L1111.4 1096.9L1105.4 1096.9L1096.2 1095.8ZM1105.4 1090.9L1111.4 1090.9L1119.6 1091.9L1119.6 1097.9L1113.6 1097.9L1105.4 1096.9ZM1113.6 1091.9L1119.6 1091.9L1123.7 1095.0L1123.7 1101.0L1117.7 1101.0L1113.6 1097.9ZM1117.7 1095.0L1123.7 1095.0L1129.9 1095.5L1129.9 1101.5L1123.9 1101.5L1117.7 1101.0ZM1123.9 1095.5L1129.9 1095.5L1135.0 1099.1L1135.0 1105.1L1129.0 1105.1L1123.9 1101.5ZM1129.0 1099.1L1135.0 1099.1L1142.2 1100.1L1142.2 1106.1L1136.2 1106.1L1129.0 1105.1ZM1136.2 1100.1L1142.2 1100.1L1146.3 1100.6L1146.3 1106.6L1140.3 1106.6L1136.2 1106.1ZM1140.3 1100.6L1146.3 1100.6L1150.4 1103.2L1150.4 1109.2L1144.4 1109.2L1140.3 1106.6ZM1144.4 1103.2L1148.5 1098.9L1154.5 1098.9L1154.5 1104.9L1150.4 1109.2L1144.4 1109.2ZM1148.5 1098.9L1154.5 1098.9L1159.6 1099.1L1159.6 1105.1L1153.6 1105.1L1148.5 1104.9ZM1153.6 1099.1L1159.6 1099.1L1163.7 1102.6L1163.7 1108.6L1157.7 1108.6L1153.6 1105.1ZM1157.7 1102.6L1163.7 1102.6L1170.9 1103.2L1170.9 1109.2L1164.9 1109.2L1157.7 1108.6ZM1164.9 1103.2L1170.9 1103.2L1176.0 1105.2L1176.0 1111.2L1170.0 1111.2L1164.9 1109.2ZM1170.0 1105.2L1176.0 1105.2L1182.2 1106.2L1182.2 1112.2L1176.2 1112.2L1170.0 1111.2ZM1176.2 1106.2L1182.2 1106.2L1188.3 1108.8L1188.3 1114.8L1182.3 1114.8L1176.2 1112.2ZM1182.3 1108.8L1186.4 1107.8L1192.4 1107.8L1192.4 1113.8L1188.3 1114.8L1182.3 1114.8ZM1186.4 1107.8L1192.4 1107.8L1198.6 1110.1L1198.6 1116.1L1192.6 1116.1L1186.4 1113.8ZM1192.6 1110.1L1198.6 1110.1L1204.7 1110.8L1204.7 1116.8L1198.7 1116.8L1192.6 1116.1ZM1198.7 1110.8L1204.7 1110.8L1208.8 1113.2L1208.8 1119.2L1202.8 1119.2L1198.7 1116.8ZM1202.8 1113.2L1210.0 1111.9L1216.0 1111.9L1216.0 1117.9L1208.8 1119.2L1202.8 1119.2ZM1210.0 1111.9L1216.0 1111.9L1221.1 1112.2L1221.1 1118.2L1215.1 1118.2L1210.0 1117.9ZM1215.1 1112.2L1221.1 1112.2L1227.3 1115.5L1227.3 1121.5L1221.3 1121.5L1215.1 1118.2ZM1221.3 1115.5L1227.3 1115.5L1233.4 1117.0L1233.4 1123.0L1227.4 1123.0L1221.3 1121.5ZM1227.4 1117.0L1233.4 1117.0L1239.1 1117.2L1239.1 1123.2L1233.1 1123.2L1227.4 1123.0ZM1233.1 1117.2L1239.1 1117.2L1247.8 1118.5L1247.8 1124.5L1241.8 1124.5L1233.1 1123.2ZM1241.8 1118.5L1247.8 1118.5L1253.0 1120.1L1253.0 1126.1L1247.0 1126.1L1241.8 1124.5ZM1247.0 1120.1L1250.6 1119.8L1256.6 1119.8L1256.6 1125.8L1253.0 1126.1L1247.0 1126.1ZM1250.6 1119.8L1256.6 1119.8L1261.7 1124.5L1261.7 1130.5L1255.7 1130.5L1250.6 1125.8ZM1255.7 1124.5L1261.7 1124.5L1264.8 1125.0L1264.8 1131.0L1258.8 1131.0L1255.7 1130.5ZM1258.8 1125.0L1262.9 1123.6L1268.9 1123.6L1268.9 1129.6L1264.8 1131.0L1258.8 1131.0ZM1262.9 1123.6L1268.9 1123.6L1278.1 1125.0L1278.1 1131.0L1272.1 1131.0L1262.9 1129.6ZM1272.1 1125.0L1278.1 1125.0L1284.3 1130.1L1284.3 1136.1L1278.3 1136.1L1272.1 1131.0ZM1278.3 1130.1L1283.4 1128.6L1289.4 1128.6L1289.4 1134.6L1284.3 1136.1L1278.3 1136.1ZM1283.4 1128.6L1289.4 1128.6L1300.7 1130.9L1300.7 1136.9L1294.7 1136.9L1283.4 1134.6ZM1294.7 1130.9L1300.7 1130.9L1308.9 1135.2L1308.9 1141.2L1302.9 1141.2L1294.7 1136.9ZM1302.9 1135.2L1308.0 1133.7L1314.0 1133.7L1314.0 1139.7L1308.9 1141.2L1302.9 1141.2ZM1308.0 1133.7L1314.0 1133.7L1318.1 1133.9L1318.1 1139.9L1312.1 1139.9L1308.0 1139.7ZM1312.1 1133.9L1318.1 1133.9L1323.2 1137.8L1323.2 1143.8L1317.2 1143.8L1312.1 1139.9ZM1317.2 1137.8L1322.3 1136.6L1328.3 1136.6L1328.3 1142.6L1323.2 1143.8L1317.2 1143.8ZM1322.3 1136.6L1328.3 1136.6L1332.4 1136.8L1332.4 1142.8L1326.4 1142.8L1322.3 1142.6ZM1326.4 1136.8L1332.4 1136.8L1336.5 1139.8L1336.5 1145.8L1330.5 1145.8L1326.4 1142.8ZM1330.5 1139.8L1336.7 1138.5L1342.7 1138.5L1342.7 1144.5L1336.5 1145.8L1330.5 1145.8ZM1336.7 1138.5L1342.7 1138.5L1346.8 1138.8L1346.8 1144.8L1340.8 1144.8L1336.7 1144.5ZM1340.8 1138.8L1346.8 1138.8L1350.9 1145.0L1350.9 1151.0L1344.9 1151.0L1340.8 1144.8ZM1344.9 1145.0L1352.6 1142.7L1358.6 1142.7L1358.6 1148.7L1350.9 1151.0L1344.9 1151.0ZM1352.6 1142.7L1358.6 1142.7L1362.2 1143.9L1362.2 1149.9L1356.2 1149.9L1352.6 1148.7ZM1356.2 1143.9L1362.2 1143.9L1367.3 1149.1L1367.3 1155.1L1361.3 1155.1L1356.2 1149.9ZM1361.3 1149.1L1365.4 1147.5L1371.4 1147.5L1371.4 1153.5L1367.3 1155.1L1361.3 1155.1ZM1365.4 1147.5L1380.6 1147.5L1380.6 1153.5L1365.4 1153.5ZM1374.6 1147.5L1380.6 1147.5L1384.7 1150.6L1384.7 1156.6L1378.7 1156.6L1374.6 1153.5ZM1378.7 1150.6L1384.7 1150.6L1388.8 1151.6L1388.8 1157.6L1382.8 1157.6L1378.7 1156.6ZM1382.8 1151.6L1388.8 1151.6L1393.9 1154.7L1393.9 1160.7L1387.9 1160.7L1382.8 1157.6ZM1387.9 1154.7L1401.1 1154.7L1401.1 1160.7L1387.9 1160.7ZM1395.1 1154.7L1401.1 1154.7L1407.3 1159.3L1407.3 1165.3L1401.3 1165.3L1395.1 1160.7ZM1401.3 1159.3L1407.3 1159.3L1419.6 1159.5L1419.6 1165.5L1413.6 1165.5L1401.3 1165.3ZM1413.6 1159.5L1419.6 1159.5L1425.7 1164.9L1425.7 1170.9L1419.7 1170.9L1413.6 1165.5ZM1419.7 1164.9L1425.7 1164.9L1433.0 1165.5L1433.0 1171.5L1427.0 1171.5L1419.7 1170.9ZM1427.0 1165.5L1433.0 1165.5L1439.7 1167.5L1439.7 1173.5L1433.7 1173.5L1427.0 1171.5ZM1433.7 1167.5L1439.7 1167.5L1444.3 1169.1L1444.3 1175.1L1438.3 1175.1L1433.7 1173.5ZM1438.3 1169.1L1441.9 1167.5L1447.9 1167.5L1447.9 1173.5L1444.3 1175.1L1438.3 1175.1ZM1441.9 1167.5L1447.9 1167.5L1452.0 1168.0L1452.0 1174.0L1446.0 1174.0L1441.9 1173.5ZM1446.0 1168.0L1452.0 1168.0L1456.1 1174.2L1456.1 1180.2L1450.1 1180.2L1446.0 1174.0ZM1450.1 1174.2L1456.1 1174.2L1467.3 1175.2L1467.3 1181.2L1461.3 1181.2L1450.1 1180.2ZM1461.3 1175.2L1467.3 1175.2L1478.6 1178.8L1478.6 1184.8L1472.6 1184.8L1461.3 1181.2ZM1472.6 1178.8L1478.6 1178.8L1489.9 1184.4L1489.9 1190.4L1483.9 1190.4L1472.6 1184.8ZM1483.9 1184.4L1497.1 1184.4L1497.1 1190.4L1483.9 1190.4ZM1491.1 1184.4L1497.1 1184.4L1501.2 1189.6L1501.2 1195.6L1495.2 1195.6L1491.1 1190.4ZM1495.2 1189.6L1501.2 1189.6L1507.3 1190.1L1507.3 1196.1L1501.3 1196.1L1495.2 1195.6ZM1501.3 1190.1L1507.3 1190.1L1510.4 1192.6L1510.4 1198.6L1504.4 1198.6L1501.3 1196.1ZM1504.4 1192.6L1510.4 1192.6L1521.7 1193.7L1521.7 1199.7L1515.7 1199.7L1504.4 1198.6ZM1515.7 1193.7L1521.7 1193.7L1525.8 1194.7L1525.8 1200.7L1519.8 1200.7L1515.7 1199.7ZM1519.8 1194.7L1525.8 1194.7L1529.9 1198.3L1529.9 1204.3L1523.9 1204.3L1519.8 1200.7ZM1523.9 1198.3L1528.0 1196.7L1534.0 1196.7L1534.0 1202.7L1529.9 1204.3L1523.9 1204.3ZM1528.0 1196.7L1534.0 1196.7L1545.2 1199.8L1545.2 1205.8L1539.2 1205.8L1528.0 1202.7ZM1539.2 1199.8L1545.2 1199.8L1554.5 1205.5L1554.5 1211.5L1548.5 1211.5L1539.2 1205.8ZM1548.5 1205.5L1554.5 1205.5L1565.7 1205.7L1565.7 1211.7L1559.7 1211.7L1548.5 1211.5ZM1559.7 1205.7L1565.7 1205.7L1569.8 1208.7L1569.8 1214.7L1563.8 1214.7L1559.7 1211.7ZM1563.8 1208.7L1569.8 1208.7L1579.1 1209.0L1579.1 1215.0L1573.1 1215.0L1563.8 1214.7ZM1573.1 1209.0L1579.1 1209.0L1588.3 1214.5L1588.3 1220.5L1582.3 1220.5L1573.1 1215.0ZM1582.3 1214.5L1588.3 1214.5L1597.5 1215.2L1597.5 1221.2L1591.5 1221.2L1582.3 1220.5ZM1591.5 1215.2L1597.5 1215.2L1604.7 1216.2L1604.7 1222.2L1598.7 1222.2L1591.5 1221.2ZM1598.7 1216.2L1604.7 1216.2L1613.0 1220.3L1613.0 1226.3L1607.0 1226.3L1598.7 1222.2ZM1607.0 1220.3L1613.0 1220.3L1616.6 1221.6L1616.6 1227.6L1610.6 1227.6L1607.0 1226.3ZM1610.6 1221.6L1616.6 1221.6L1620.7 1223.9L1620.7 1229.9L1614.7 1229.9L1610.6 1227.6ZM1614.7 1223.9L1629.9 1223.9L1629.9 1229.9L1614.7 1229.9ZM1623.9 1223.9L1629.9 1223.9L1636.1 1227.8L1636.1 1233.8L1630.1 1233.8L1623.9 1229.9ZM1630.1 1227.8L1636.1 1227.8L1644.3 1228.8L1644.3 1234.8L1638.3 1234.8L1630.1 1233.8ZM1638.3 1228.8L1644.3 1228.8L1648.4 1230.3L1648.4 1236.3L1642.4 1236.3L1638.3 1234.8ZM1642.4 1230.3L1660.7 1230.3L1660.7 1236.3L1642.4 1236.3ZM1654.7 1230.3L1660.7 1230.3L1664.8 1233.9L1664.8 1239.9L1658.8 1239.9L1654.7 1236.3ZM1658.8 1233.9L1664.8 1233.9L1670.9 1235.0L1670.9 1241.0L1664.9 1241.0L1658.8 1239.9ZM1664.9 1235.0L1670.9 1235.0L1675.0 1237.5L1675.0 1243.5L1669.0 1243.5L1664.9 1241.0ZM1669.0 1237.5L1675.7 1234.8L1681.7 1234.8L1681.7 1240.8L1675.0 1243.5L1669.0 1243.5ZM1675.7 1234.8L1681.7 1234.8L1687.3 1237.0L1687.3 1243.0L1681.3 1243.0L1675.7 1240.8ZM1681.3 1237.0L1687.3 1237.0L1693.5 1237.5L1693.5 1243.5L1687.5 1243.5L1681.3 1243.0ZM1687.5 1237.5L1693.5 1237.5L1697.6 1241.1L1697.6 1247.1L1691.6 1247.1L1687.5 1243.5ZM1691.6 1241.1L1697.6 1241.1L1704.7 1242.1L1704.7 1248.1L1698.7 1248.1L1691.6 1247.1ZM1698.7 1242.1L1704.9 1240.6L1710.9 1240.6L1710.9 1246.6L1704.7 1248.1L1698.7 1248.1ZM1704.9 1240.6L1710.9 1240.6L1718.1 1244.2L1718.1 1250.2L1712.1 1250.2L1704.9 1246.6ZM1712.1 1244.2L1718.1 1244.2L1725.2 1246.7L1725.2 1252.7L1719.2 1252.7L1712.1 1250.2ZM1719.2 1246.7L1723.3 1244.7L1729.3 1244.7L1729.3 1250.7L1725.2 1252.7L1719.2 1252.7ZM1723.3 1244.7L1729.3 1244.7L1735.5 1245.0L1735.5 1251.0L1729.5 1251.0L1723.3 1250.7ZM1729.5 1245.0L1735.5 1245.0L1740.6 1247.3L1740.6 1253.3L1734.6 1253.3L1729.5 1251.0ZM1734.6 1247.3L1740.6 1247.3L1750.9 1248.8L1750.9 1254.8L1744.9 1254.8L1734.6 1253.3ZM1744.9 1248.8L1750.9 1248.8L1757.0 1250.1L1757.0 1256.1L1751.0 1256.1L1744.9 1254.8ZM1751.0 1250.1L1756.1 1248.3L1762.1 1248.3L1762.1 1254.3L1757.0 1256.1L1751.0 1256.1ZM1756.1 1248.3L1762.1 1248.3L1769.3 1251.9L1769.3 1257.9L1763.3 1257.9L1756.1 1254.3ZM1763.3 1251.9L1770.5 1249.6L1776.5 1249.6L1776.5 1255.6L1769.3 1257.9L1763.3 1257.9ZM1770.5 1249.6L1776.5 1249.6L1782.6 1253.4L1782.6 1259.4L1776.6 1259.4L1770.5 1255.6ZM1776.6 1253.4L1777.7 1253.1L1783.7 1253.1L1783.7 1259.1L1782.6 1259.4L1776.6 1259.4ZM1777.7 1253.1L1783.7 1253.1L1798.1 1253.6L1798.1 1259.6L1792.1 1259.6L1777.7 1259.1ZM1792.1 1253.6L1798.1 1253.6L1807.3 1254.7L1807.3 1260.7L1801.3 1260.7L1792.1 1259.6ZM1801.3 1254.7L1809.5 1254.1L1815.5 1254.1L1815.5 1260.1L1807.3 1260.7L1801.3 1260.7ZM1809.5 1254.1L1815.5 1254.1L1821.1 1260.3L1821.1 1266.3L1815.1 1266.3L1809.5 1260.1ZM1815.1 1260.3L1821.3 1256.2L1827.3 1256.2L1827.3 1262.2L1821.1 1266.3L1815.1 1266.3ZM1821.3 1256.2L1827.3 1256.2L1835.0 1259.8L1835.0 1265.8L1829.0 1265.8L1821.3 1262.2ZM1829.0 1259.8L1835.1 1258.2L1841.1 1258.2L1841.1 1264.2L1835.0 1265.8L1829.0 1265.8ZM1835.1 1258.2L1842.3 1256.7L1848.3 1256.7L1848.3 1262.7L1841.1 1264.2L1835.1 1264.2ZM1842.3 1256.7L1850.5 1256.5L1856.5 1256.5L1856.5 1262.5L1848.3 1262.7L1842.3 1262.7ZM1850.5 1256.5L1856.5 1256.5L1863.2 1262.3L1863.2 1268.3L1857.2 1268.3L1850.5 1262.5ZM1857.2 1262.3L1865.9 1260.3L1871.9 1260.3L1871.9 1266.3L1863.2 1268.3L1857.2 1268.3ZM1865.9 1260.3L1871.9 1260.3L1878.6 1263.4L1878.6 1269.4L1872.6 1269.4L1865.9 1266.3ZM1872.6 1263.4L1881.3 1262.3L1887.3 1262.3L1887.3 1268.3L1878.6 1269.4L1872.6 1269.4Z"/>
<line x1="771.5" y1="216" x2="771.5" y2="429.5" stroke="#000" stroke-width="3"/>
<line x1="1277.5" y1="460.5" x2="1277.5" y2="653.5" stroke="#000" stroke-width="3"/>
<line x1="646.4" y1="533.5" x2="646.4" y2="1022" stroke="#000" stroke-width="3.2"/>
<line x1="1236" y1="711.5" x2="1236" y2="1220.5" stroke="#000" stroke-width="4"/>
<line x1="849.4" y1="246.1" x2="809.3" y2="275.9" stroke="#000" stroke-width="3"/><polygon points="782.2,297.3 803.8,269.2 814.9,282.5" fill="#000"/>
<line x1="1354.6" y1="489.8" x2="1314.1" y2="518.5" stroke="#000" stroke-width="3"/><polygon points="1286.3,538.3 1309.2,511.2 1318.9,525.9" fill="#000"/>
<line x1="729.5" y1="576.1" x2="685.5" y2="607.0" stroke="#000" stroke-width="3"/><polygon points="657.1,625.5 680.2,600.2 690.7,613.8" fill="#000"/>
<line x1="1331.5" y1="763" x2="1268.7" y2="799.8" stroke="#000" stroke-width="3.4"/><polygon points="1239.2,816.7 1264.4,792.1 1273,807.5" fill="#000"/>
<text transform="translate(458.83,1394.40) scale(0.9690,1.0500)" font-size="52" font-family="'Liberation Sans', sans-serif" fill="#000">400</text>
<text transform="translate(1150.26,1394.40) scale(0.9711,1.0500)" font-size="52" font-family="'Liberation Sans', sans-serif" fill="#000">500</text>
<text transform="translate(1839.63,1394.40) scale(0.9902,1.0500)" font-size="52" font-family="'Liberation Sans', sans-serif" fill="#000">600</text>
<text transform="translate(311.75,297.10) scale(0.9773,1.0083)" font-size="44" font-family="'Liberation Sans', sans-serif" fill="#000">a</text>
<text transform="translate(316.88,538.00) scale(1.0050,1.0000)" font-size="44" font-family="'Liberation Sans', sans-serif" fill="#000">b</text>
<text transform="translate(318.67,697.90) scale(1.1158,1.0042)" font-size="44" font-family="'Liberation Sans', sans-serif" fill="#000">c</text>
<text transform="translate(316.89,846.90) scale(1.0050,1.0000)" font-size="44" font-family="'Liberation Sans', sans-serif" fill="#000">d</text>
<text transform="translate(685.44,288.90) scale(1.0571,1.0129)" font-size="44" font-family="'Liberation Sans', sans-serif" fill="#000">439</text>
<text transform="translate(1187.65,510.20) scale(1.0232,1.0226)" font-size="44" font-family="'Liberation Sans', sans-serif" fill="#000">512</text>
<text transform="translate(555.48,599.90) scale(1.0239,1.0258)" font-size="44" font-family="'Liberation Sans', sans-serif" fill="#000">420</text>
<text transform="translate(1139.77,786.10) scale(1.0171,1.0290)" font-size="44" font-family="'Liberation Sans', sans-serif" fill="#000">505</text>
<text transform="translate(789.20,1456.1) scale(1.0133,1.03)" font-size="62.5" font-family="'Liberation Sans', sans-serif" fill="#000">Wavelength(nm)</text>
<text transform="translate(80,904.90) rotate(-90) scale(0.9973,1.03)" font-size="62.5" font-family="'Liberation Sans', sans-serif" fill="#000">Absorbance(a.u.)</text>
</svg></body></html>
